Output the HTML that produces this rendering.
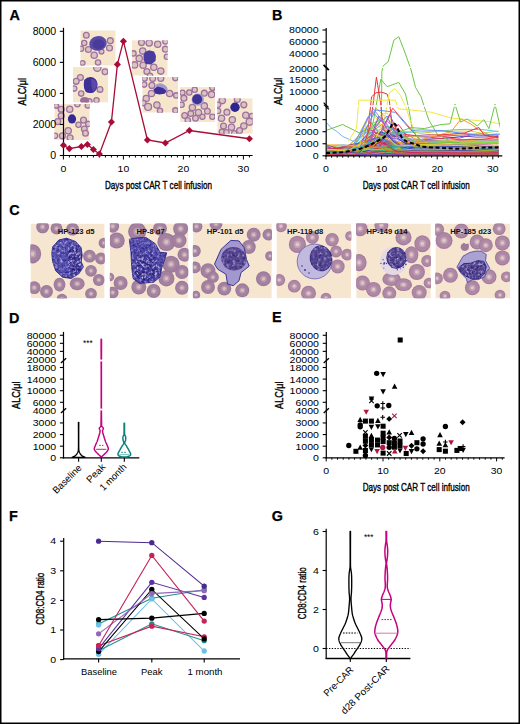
<!DOCTYPE html><html><head><meta charset="utf-8"><style>html,body{margin:0;padding:0;background:#fff;width:520px;height:724px;overflow:hidden}svg{display:block}</style></head><body><svg width="520" height="724" viewBox="0 0 520 724" font-family="'Liberation Sans', sans-serif">
<rect width="520" height="724" fill="#fff"/>
<text x="9.6" y="20.2" font-size="14.4" font-weight="bold" fill="#000" stroke="#000" stroke-width="0.25">A</text>
<clipPath id="ta1"><rect x="54.3" y="103.9" width="35.400000000000006" height="36.099999999999994"/></clipPath>
<g clip-path="url(#ta1)">
<rect x="54.3" y="103.9" width="35.400000000000006" height="36.099999999999994" fill="#f5e6cc"/>
<circle cx="56.2" cy="105.8" r="2.45" fill="#dcc3c2" stroke="#9e729e" stroke-width="1.3"/>
<circle cx="61.2" cy="109.3" r="2.95" fill="#dcc3c2" stroke="#9e729e" stroke-width="1.3"/>
<circle cx="69.7" cy="109.3" r="3.15" fill="#dcc3c2" stroke="#9e729e" stroke-width="1.3"/>
<circle cx="77.4" cy="104.3" r="2.65" fill="#dcc3c2" stroke="#9e729e" stroke-width="1.3"/>
<circle cx="87.8" cy="105.5" r="2.65" fill="#dcc3c2" stroke="#9e729e" stroke-width="1.3"/>
<circle cx="61.2" cy="115.8" r="2.95" fill="#dcc3c2" stroke="#9e729e" stroke-width="1.3"/>
<circle cx="57.8" cy="121.6" r="2.95" fill="#dcc3c2" stroke="#9e729e" stroke-width="1.3"/>
<circle cx="83.5" cy="120.1" r="2.95" fill="#dcc3c2" stroke="#9e729e" stroke-width="1.3"/>
<circle cx="78.5" cy="124.7" r="2.65" fill="#dcc3c2" stroke="#9e729e" stroke-width="1.3"/>
<circle cx="88.2" cy="123.9" r="2.65" fill="#dcc3c2" stroke="#9e729e" stroke-width="1.3"/>
<circle cx="84.3" cy="128.9" r="2.85" fill="#dcc3c2" stroke="#9e729e" stroke-width="1.3"/>
<circle cx="85.5" cy="133.2" r="2.85" fill="#dcc3c2" stroke="#9e729e" stroke-width="1.3"/>
<circle cx="68.2" cy="130.8" r="3.15" fill="#dcc3c2" stroke="#9e729e" stroke-width="1.3"/>
<circle cx="62.4" cy="135.8" r="2.95" fill="#dcc3c2" stroke="#9e729e" stroke-width="1.3"/>
<circle cx="55.1" cy="135.8" r="2.65" fill="#dcc3c2" stroke="#9e729e" stroke-width="1.3"/>
<circle cx="70.1" cy="137.8" r="2.95" fill="#dcc3c2" stroke="#9e729e" stroke-width="1.3"/>
<ellipse cx="72" cy="118.9" rx="4.1" ry="4.6" fill="#342a92"/>
</g>
<clipPath id="ta2"><rect x="72.9" y="67.1" width="35.19999999999999" height="35.400000000000006"/></clipPath>
<g clip-path="url(#ta2)">
<rect x="72.9" y="67.1" width="35.19999999999999" height="35.400000000000006" fill="#f5e6cc"/>
<circle cx="80.4" cy="77.5" r="2.95" fill="#dcc3c2" stroke="#9e729e" stroke-width="1.3"/>
<circle cx="76.2" cy="81.3" r="2.95" fill="#dcc3c2" stroke="#9e729e" stroke-width="1.3"/>
<circle cx="74.2" cy="88.6" r="2.65" fill="#dcc3c2" stroke="#9e729e" stroke-width="1.3"/>
<circle cx="81.2" cy="93.6" r="2.65" fill="#dcc3c2" stroke="#9e729e" stroke-width="1.3"/>
<circle cx="100" cy="89.4" r="2.85" fill="#dcc3c2" stroke="#9e729e" stroke-width="1.3"/>
<circle cx="105" cy="71.7" r="2.85" fill="#dcc3c2" stroke="#9e729e" stroke-width="1.3"/>
<circle cx="97.3" cy="67.8" r="3.65" fill="#dcc3c2" stroke="#9e729e" stroke-width="1.3"/>
<circle cx="96.5" cy="100.2" r="2.65" fill="#dcc3c2" stroke="#9e729e" stroke-width="1.3"/>
<circle cx="89.2" cy="101.5" r="2.85" fill="#dcc3c2" stroke="#9e729e" stroke-width="1.3"/>
<ellipse cx="84.6" cy="100.6" rx="4.5" ry="3.5" fill="#9a6e98"/>
<path d="M84.2 80 Q87 76.8 91 77.1 Q96.8 78 97.6 84 Q97.5 90 93.5 92.5 Q88.5 94 85.5 91.5 Q83 88 84.2 80Z" fill="#3e3096"/>
<path d="M91 79 Q96 79 97 84 Q97 89 93 91.5 Q91 86 91 79Z" fill="#5a4aa8"/>
</g>
<clipPath id="ta3"><rect x="80.3" y="30.3" width="35.400000000000006" height="35.400000000000006"/></clipPath>
<g clip-path="url(#ta3)">
<rect x="80.3" y="30.3" width="35.400000000000006" height="35.400000000000006" fill="#f5e6cc"/>
<circle cx="86.3" cy="35.3" r="2.85" fill="#dcc3c2" stroke="#9e729e" stroke-width="1.3"/>
<circle cx="84.2" cy="43" r="2.65" fill="#dcc3c2" stroke="#9e729e" stroke-width="1.3"/>
<circle cx="81.1" cy="48.8" r="2.65" fill="#dcc3c2" stroke="#9e729e" stroke-width="1.3"/>
<circle cx="88.4" cy="49.5" r="2.95" fill="#dcc3c2" stroke="#9e729e" stroke-width="1.3"/>
<circle cx="94.2" cy="55.3" r="3.15" fill="#dcc3c2" stroke="#9e729e" stroke-width="1.3"/>
<circle cx="101.5" cy="51.5" r="2.45" fill="#dcc3c2" stroke="#9e729e" stroke-width="1.3"/>
<circle cx="109.5" cy="48" r="2.95" fill="#dcc3c2" stroke="#9e729e" stroke-width="1.3"/>
<circle cx="110.3" cy="40.7" r="2.95" fill="#dcc3c2" stroke="#9e729e" stroke-width="1.3"/>
<circle cx="82.6" cy="63" r="2.45" fill="#dcc3c2" stroke="#9e729e" stroke-width="1.3"/>
<circle cx="98" cy="62.6" r="2.65" fill="#dcc3c2" stroke="#9e729e" stroke-width="1.3"/>
<ellipse cx="98" cy="43.4" rx="8.8" ry="7.3" fill="#5a4aa8" transform="rotate(-10 98 43.4)"/>
<ellipse cx="98.5" cy="44.2" rx="6" ry="5" fill="#4a3a9a"/>
</g>
<clipPath id="ta4"><rect x="131.9" y="40.2" width="35.79999999999998" height="35.5"/></clipPath>
<g clip-path="url(#ta4)">
<rect x="131.9" y="40.2" width="35.79999999999998" height="35.5" fill="#f5e6cc"/>
<circle cx="141.5" cy="42.6" r="2.95" fill="#dcc3c2" stroke="#9e729e" stroke-width="1.3"/>
<circle cx="149.2" cy="43" r="3.15" fill="#dcc3c2" stroke="#9e729e" stroke-width="1.3"/>
<circle cx="157.7" cy="44.2" r="3.15" fill="#dcc3c2" stroke="#9e729e" stroke-width="1.3"/>
<circle cx="165.4" cy="41.5" r="2.65" fill="#dcc3c2" stroke="#9e729e" stroke-width="1.3"/>
<circle cx="142.7" cy="51.1" r="3.15" fill="#dcc3c2" stroke="#9e729e" stroke-width="1.3"/>
<circle cx="133.5" cy="53.4" r="2.65" fill="#dcc3c2" stroke="#9e729e" stroke-width="1.3"/>
<circle cx="165.4" cy="49.2" r="2.95" fill="#dcc3c2" stroke="#9e729e" stroke-width="1.3"/>
<circle cx="139.2" cy="58.4" r="3.15" fill="#dcc3c2" stroke="#9e729e" stroke-width="1.3"/>
<circle cx="166.9" cy="56.8" r="2.65" fill="#dcc3c2" stroke="#9e729e" stroke-width="1.3"/>
<circle cx="134.6" cy="64.9" r="3.15" fill="#dcc3c2" stroke="#9e729e" stroke-width="1.3"/>
<circle cx="143.1" cy="65.3" r="3.15" fill="#dcc3c2" stroke="#9e729e" stroke-width="1.3"/>
<circle cx="153.8" cy="67.2" r="3.15" fill="#dcc3c2" stroke="#9e729e" stroke-width="1.3"/>
<circle cx="146.9" cy="71.5" r="2.95" fill="#dcc3c2" stroke="#9e729e" stroke-width="1.3"/>
<circle cx="160.8" cy="71.1" r="3.15" fill="#dcc3c2" stroke="#9e729e" stroke-width="1.3"/>
<circle cx="150" cy="75.7" r="2.65" fill="#dcc3c2" stroke="#9e729e" stroke-width="1.3"/>
<path d="M145 52 L149 50.3 L154 51.5 L156 56 L155.5 61 L151 64.5 L146 64 L143.5 60 L143.5 55Z" fill="#4a3c9e"/>
</g>
<clipPath id="ta5"><rect x="142.3" y="76.9" width="35.79999999999998" height="35.8"/></clipPath>
<g clip-path="url(#ta5)">
<rect x="142.3" y="76.9" width="35.79999999999998" height="35.8" fill="#f5e6cc"/>
<circle cx="144.6" cy="78.5" r="2.65" fill="#dcc3c2" stroke="#9e729e" stroke-width="1.3"/>
<circle cx="152.7" cy="78.5" r="2.95" fill="#dcc3c2" stroke="#9e729e" stroke-width="1.3"/>
<circle cx="160.8" cy="78.5" r="2.95" fill="#dcc3c2" stroke="#9e729e" stroke-width="1.3"/>
<circle cx="175.4" cy="78.1" r="2.65" fill="#dcc3c2" stroke="#9e729e" stroke-width="1.3"/>
<circle cx="144.2" cy="84.6" r="2.65" fill="#dcc3c2" stroke="#9e729e" stroke-width="1.3"/>
<circle cx="151.9" cy="85.4" r="2.95" fill="#dcc3c2" stroke="#9e729e" stroke-width="1.3"/>
<circle cx="151.5" cy="93.5" r="3.15" fill="#dcc3c2" stroke="#9e729e" stroke-width="1.3"/>
<circle cx="169.6" cy="93.5" r="3.15" fill="#dcc3c2" stroke="#9e729e" stroke-width="1.3"/>
<circle cx="176.2" cy="95.4" r="2.65" fill="#dcc3c2" stroke="#9e729e" stroke-width="1.3"/>
<circle cx="146.2" cy="98.5" r="3.15" fill="#dcc3c2" stroke="#9e729e" stroke-width="1.3"/>
<circle cx="143.5" cy="103.1" r="2.65" fill="#dcc3c2" stroke="#9e729e" stroke-width="1.3"/>
<circle cx="148.1" cy="106.9" r="3.45" fill="#dcc3c2" stroke="#9e729e" stroke-width="1.3"/>
<circle cx="156.9" cy="105" r="3.15" fill="#dcc3c2" stroke="#9e729e" stroke-width="1.3"/>
<circle cx="160" cy="110.8" r="2.65" fill="#dcc3c2" stroke="#9e729e" stroke-width="1.3"/>
<circle cx="175.4" cy="110.4" r="2.65" fill="#dcc3c2" stroke="#9e729e" stroke-width="1.3"/>
<ellipse cx="161.5" cy="88.2" rx="6.5" ry="4.4" fill="#a498cc" transform="rotate(25 161.5 88.2)"/>
<path d="M153.5 89.2 L157.7 86.5 L163 88 L166.5 91 L164.6 93.8 L159.3 94.6 L155 93.5Z" fill="#3c3096"/>
</g>
<clipPath id="ta6"><rect x="179.9" y="87.1" width="35.19999999999999" height="35.0"/></clipPath>
<g clip-path="url(#ta6)">
<rect x="179.9" y="87.1" width="35.19999999999999" height="35.0" fill="#f5e6cc"/>
<circle cx="194.7" cy="89.8" r="2.65" fill="#dcc3c2" stroke="#9e729e" stroke-width="1.3"/>
<circle cx="189.3" cy="92.5" r="2.65" fill="#dcc3c2" stroke="#9e729e" stroke-width="1.3"/>
<circle cx="182.4" cy="92.8" r="2.65" fill="#dcc3c2" stroke="#9e729e" stroke-width="1.3"/>
<circle cx="183.9" cy="98.2" r="2.95" fill="#dcc3c2" stroke="#9e729e" stroke-width="1.3"/>
<circle cx="204.3" cy="93.2" r="2.95" fill="#dcc3c2" stroke="#9e729e" stroke-width="1.3"/>
<circle cx="211.6" cy="94.4" r="3.15" fill="#dcc3c2" stroke="#9e729e" stroke-width="1.3"/>
<circle cx="212.4" cy="87.8" r="2.65" fill="#dcc3c2" stroke="#9e729e" stroke-width="1.3"/>
<circle cx="181.6" cy="104.8" r="2.65" fill="#dcc3c2" stroke="#9e729e" stroke-width="1.3"/>
<circle cx="192.4" cy="107.5" r="3.15" fill="#dcc3c2" stroke="#9e729e" stroke-width="1.3"/>
<circle cx="204.3" cy="105.9" r="3.15" fill="#dcc3c2" stroke="#9e729e" stroke-width="1.3"/>
<circle cx="198.5" cy="112.5" r="3.15" fill="#dcc3c2" stroke="#9e729e" stroke-width="1.3"/>
<circle cx="207.4" cy="111.3" r="2.85" fill="#dcc3c2" stroke="#9e729e" stroke-width="1.3"/>
<circle cx="190.8" cy="113.6" r="2.85" fill="#dcc3c2" stroke="#9e729e" stroke-width="1.3"/>
<circle cx="184.7" cy="115.5" r="2.85" fill="#dcc3c2" stroke="#9e729e" stroke-width="1.3"/>
<circle cx="195.5" cy="118.2" r="2.85" fill="#dcc3c2" stroke="#9e729e" stroke-width="1.3"/>
<circle cx="202.4" cy="116.7" r="2.65" fill="#dcc3c2" stroke="#9e729e" stroke-width="1.3"/>
<circle cx="212.4" cy="116.7" r="2.65" fill="#dcc3c2" stroke="#9e729e" stroke-width="1.3"/>
<circle cx="187.8" cy="120.2" r="2.65" fill="#dcc3c2" stroke="#9e729e" stroke-width="1.3"/>
<circle cx="197.8" cy="99.6" r="6.2" fill="#a89ccc"/>
<circle cx="197.2" cy="99.2" r="5.0" fill="#3e3296"/>
</g>
<clipPath id="ta7"><rect x="217.2" y="98.3" width="35.5" height="35.39999999999999"/></clipPath>
<g clip-path="url(#ta7)">
<rect x="217.2" y="98.3" width="35.5" height="35.39999999999999" fill="#f5e6cc"/>
<circle cx="222.3" cy="100.6" r="3.15" fill="#dcc3c2" stroke="#9e729e" stroke-width="1.3"/>
<circle cx="237.3" cy="99.5" r="2.95" fill="#dcc3c2" stroke="#9e729e" stroke-width="1.3"/>
<circle cx="243.8" cy="104.8" r="2.95" fill="#dcc3c2" stroke="#9e729e" stroke-width="1.3"/>
<circle cx="218.1" cy="104.8" r="2.65" fill="#dcc3c2" stroke="#9e729e" stroke-width="1.3"/>
<circle cx="218.1" cy="111" r="2.65" fill="#dcc3c2" stroke="#9e729e" stroke-width="1.3"/>
<circle cx="226.9" cy="112.2" r="2.95" fill="#dcc3c2" stroke="#9e729e" stroke-width="1.3"/>
<circle cx="245.8" cy="115.2" r="3.15" fill="#dcc3c2" stroke="#9e729e" stroke-width="1.3"/>
<circle cx="251.9" cy="116" r="2.65" fill="#dcc3c2" stroke="#9e729e" stroke-width="1.3"/>
<circle cx="221.5" cy="118.3" r="3.15" fill="#dcc3c2" stroke="#9e729e" stroke-width="1.3"/>
<circle cx="232.3" cy="119.8" r="3.15" fill="#dcc3c2" stroke="#9e729e" stroke-width="1.3"/>
<circle cx="249.6" cy="121.8" r="3.45" fill="#dcc3c2" stroke="#9e729e" stroke-width="1.3"/>
<circle cx="223.5" cy="126" r="2.95" fill="#dcc3c2" stroke="#9e729e" stroke-width="1.3"/>
<circle cx="231.5" cy="127.2" r="3.15" fill="#dcc3c2" stroke="#9e729e" stroke-width="1.3"/>
<circle cx="243.8" cy="126" r="3.15" fill="#dcc3c2" stroke="#9e729e" stroke-width="1.3"/>
<circle cx="239.6" cy="130.6" r="2.95" fill="#dcc3c2" stroke="#9e729e" stroke-width="1.3"/>
<circle cx="221.9" cy="131.8" r="2.65" fill="#dcc3c2" stroke="#9e729e" stroke-width="1.3"/>
<circle cx="226.5" cy="132.2" r="2.65" fill="#dcc3c2" stroke="#9e729e" stroke-width="1.3"/>
<circle cx="234.2" cy="133.3" r="2.65" fill="#dcc3c2" stroke="#9e729e" stroke-width="1.3"/>
<circle cx="235" cy="107.2" r="4.7" fill="#2e2690"/>
</g>
<line x1="63.5" y1="27.8" x2="63.5" y2="156.1" stroke="#000" stroke-width="1.2"/>
<line x1="62.9" y1="155.5" x2="252.6" y2="155.5" stroke="#000" stroke-width="1.2"/>
<line x1="59.8" y1="155.5" x2="63.5" y2="155.5" stroke="#000" stroke-width="1.1"/>
<text x="56.2" y="159.08" font-size="10.0" text-anchor="end" textLength="5.9" lengthAdjust="spacingAndGlyphs" fill="#000">0</text>
<line x1="59.8" y1="124.45" x2="63.5" y2="124.45" stroke="#000" stroke-width="1.1"/>
<text x="56.2" y="128.03" font-size="10.0" text-anchor="end" textLength="23.5" lengthAdjust="spacingAndGlyphs" fill="#000">2000</text>
<line x1="59.8" y1="93.4" x2="63.5" y2="93.4" stroke="#000" stroke-width="1.1"/>
<text x="56.2" y="96.98" font-size="10.0" text-anchor="end" textLength="23.5" lengthAdjust="spacingAndGlyphs" fill="#000">4000</text>
<line x1="59.8" y1="62.349999999999994" x2="63.5" y2="62.349999999999994" stroke="#000" stroke-width="1.1"/>
<text x="56.2" y="65.92999999999999" font-size="10.0" text-anchor="end" textLength="23.5" lengthAdjust="spacingAndGlyphs" fill="#000">6000</text>
<line x1="59.8" y1="31.299999999999997" x2="63.5" y2="31.299999999999997" stroke="#000" stroke-width="1.1"/>
<text x="56.2" y="34.879999999999995" font-size="10.0" text-anchor="end" textLength="23.5" lengthAdjust="spacingAndGlyphs" fill="#000">8000</text>
<line x1="63.4" y1="155.5" x2="63.4" y2="159.5" stroke="#000" stroke-width="1.0"/>
<line x1="69.4" y1="155.5" x2="69.4" y2="157.5" stroke="#000" stroke-width="1.0"/>
<line x1="75.4" y1="155.5" x2="75.4" y2="157.5" stroke="#000" stroke-width="1.0"/>
<line x1="81.4" y1="155.5" x2="81.4" y2="157.5" stroke="#000" stroke-width="1.0"/>
<line x1="87.4" y1="155.5" x2="87.4" y2="157.5" stroke="#000" stroke-width="1.0"/>
<line x1="93.4" y1="155.5" x2="93.4" y2="157.5" stroke="#000" stroke-width="1.0"/>
<line x1="99.4" y1="155.5" x2="99.4" y2="157.5" stroke="#000" stroke-width="1.0"/>
<line x1="105.4" y1="155.5" x2="105.4" y2="157.5" stroke="#000" stroke-width="1.0"/>
<line x1="111.4" y1="155.5" x2="111.4" y2="157.5" stroke="#000" stroke-width="1.0"/>
<line x1="117.4" y1="155.5" x2="117.4" y2="157.5" stroke="#000" stroke-width="1.0"/>
<line x1="123.4" y1="155.5" x2="123.4" y2="159.5" stroke="#000" stroke-width="1.0"/>
<line x1="129.4" y1="155.5" x2="129.4" y2="157.5" stroke="#000" stroke-width="1.0"/>
<line x1="135.4" y1="155.5" x2="135.4" y2="157.5" stroke="#000" stroke-width="1.0"/>
<line x1="141.4" y1="155.5" x2="141.4" y2="157.5" stroke="#000" stroke-width="1.0"/>
<line x1="147.4" y1="155.5" x2="147.4" y2="157.5" stroke="#000" stroke-width="1.0"/>
<line x1="153.4" y1="155.5" x2="153.4" y2="157.5" stroke="#000" stroke-width="1.0"/>
<line x1="159.4" y1="155.5" x2="159.4" y2="157.5" stroke="#000" stroke-width="1.0"/>
<line x1="165.4" y1="155.5" x2="165.4" y2="157.5" stroke="#000" stroke-width="1.0"/>
<line x1="171.4" y1="155.5" x2="171.4" y2="157.5" stroke="#000" stroke-width="1.0"/>
<line x1="177.4" y1="155.5" x2="177.4" y2="157.5" stroke="#000" stroke-width="1.0"/>
<line x1="183.4" y1="155.5" x2="183.4" y2="159.5" stroke="#000" stroke-width="1.0"/>
<line x1="189.4" y1="155.5" x2="189.4" y2="157.5" stroke="#000" stroke-width="1.0"/>
<line x1="195.4" y1="155.5" x2="195.4" y2="157.5" stroke="#000" stroke-width="1.0"/>
<line x1="201.4" y1="155.5" x2="201.4" y2="157.5" stroke="#000" stroke-width="1.0"/>
<line x1="207.4" y1="155.5" x2="207.4" y2="157.5" stroke="#000" stroke-width="1.0"/>
<line x1="213.4" y1="155.5" x2="213.4" y2="157.5" stroke="#000" stroke-width="1.0"/>
<line x1="219.4" y1="155.5" x2="219.4" y2="157.5" stroke="#000" stroke-width="1.0"/>
<line x1="225.4" y1="155.5" x2="225.4" y2="157.5" stroke="#000" stroke-width="1.0"/>
<line x1="231.4" y1="155.5" x2="231.4" y2="157.5" stroke="#000" stroke-width="1.0"/>
<line x1="237.4" y1="155.5" x2="237.4" y2="157.5" stroke="#000" stroke-width="1.0"/>
<line x1="243.4" y1="155.5" x2="243.4" y2="159.5" stroke="#000" stroke-width="1.0"/>
<line x1="249.4" y1="155.5" x2="249.4" y2="157.5" stroke="#000" stroke-width="1.0"/>
<text x="63.4" y="171.8" font-size="9.5" text-anchor="middle" textLength="5.9" lengthAdjust="spacingAndGlyphs" fill="#000">0</text>
<text x="123.4" y="171.8" font-size="9.5" text-anchor="middle" textLength="11.6" lengthAdjust="spacingAndGlyphs" fill="#000">10</text>
<text x="183.4" y="171.8" font-size="9.5" text-anchor="middle" textLength="11.6" lengthAdjust="spacingAndGlyphs" fill="#000">20</text>
<text x="243.4" y="171.8" font-size="9.5" text-anchor="middle" textLength="11.6" lengthAdjust="spacingAndGlyphs" fill="#000">30</text>
<text x="158.5" y="188.6" font-size="11.8" text-anchor="middle" textLength="107" lengthAdjust="spacingAndGlyphs" fill="#000" stroke="#000" stroke-width="0.38">Days post CAR T cell infusion</text>
<text x="25.7" y="91.65" font-size="11.8" text-anchor="middle" textLength="27.5" lengthAdjust="spacingAndGlyphs" transform="rotate(-90 25.7 91.65)" fill="#000" stroke="#000" stroke-width="0.38">ALC/&#956;l</text>
<polyline points="63.40,145.20 69.40,148.60 81.40,146.50 87.40,144.50 93.40,149.50 99.40,154.00 111.40,122.00 117.40,64.40 123.40,41.20 147.40,140.00 165.40,143.00 189.40,130.50 249.40,138.75" fill="none" stroke="#a80c37" stroke-width="1.3"/>
<rect x="60.90" y="142.70" width="5.0" height="5.0" fill="#a80c37" transform="rotate(45 63.40 145.20)"/>
<rect x="66.90" y="146.10" width="5.0" height="5.0" fill="#a80c37" transform="rotate(45 69.40 148.60)"/>
<rect x="78.90" y="144.00" width="5.0" height="5.0" fill="#a80c37" transform="rotate(45 81.40 146.50)"/>
<rect x="84.90" y="142.00" width="5.0" height="5.0" fill="#a80c37" transform="rotate(45 87.40 144.50)"/>
<rect x="90.90" y="147.00" width="5.0" height="5.0" fill="#a80c37" transform="rotate(45 93.40 149.50)"/>
<rect x="96.90" y="151.50" width="5.0" height="5.0" fill="#a80c37" transform="rotate(45 99.40 154.00)"/>
<rect x="108.90" y="119.50" width="5.0" height="5.0" fill="#a80c37" transform="rotate(45 111.40 122.00)"/>
<rect x="114.90" y="61.90" width="5.0" height="5.0" fill="#a80c37" transform="rotate(45 117.40 64.40)"/>
<rect x="120.90" y="38.70" width="5.0" height="5.0" fill="#a80c37" transform="rotate(45 123.40 41.20)"/>
<rect x="144.90" y="137.50" width="5.0" height="5.0" fill="#a80c37" transform="rotate(45 147.40 140.00)"/>
<rect x="162.90" y="140.50" width="5.0" height="5.0" fill="#a80c37" transform="rotate(45 165.40 143.00)"/>
<rect x="186.90" y="128.00" width="5.0" height="5.0" fill="#a80c37" transform="rotate(45 189.40 130.50)"/>
<rect x="246.90" y="136.25" width="5.0" height="5.0" fill="#a80c37" transform="rotate(45 249.40 138.75)"/>
<text x="271.9" y="19.9" font-size="14.4" font-weight="bold" fill="#000" stroke="#000" stroke-width="0.25">B</text>
<g clip-path="url(#clipB)">
<clipPath id="clipB"><rect x="327" y="20" width="173" height="135.6"/></clipPath>
<polyline points="326.00,145.29 331.56,149.00 342.68,148.47 353.80,146.34 364.92,139.51 370.48,141.56 381.60,142.55 398.28,139.35 426.08,143.24 437.20,140.99 453.88,142.56 465.00,142.97 492.80,143.04 498.36,142.51" fill="none" stroke="#f06a90" stroke-width="0.85"/>
<polyline points="326.00,155.02 331.56,155.05 353.80,154.72 359.36,155.11 364.92,153.82 381.60,149.49 392.72,151.17 398.28,152.80 403.84,153.62 431.64,154.22 459.44,154.07 481.68,154.19 498.36,154.13" fill="none" stroke="#ffcc33" stroke-width="0.85"/>
<polyline points="326.00,153.76 342.68,153.37 353.80,153.57 370.48,151.93 392.72,151.75 403.84,151.27 426.08,151.96 453.88,151.59 465.00,151.84 476.12,151.88 498.36,151.93" fill="none" stroke="#c8c820" stroke-width="0.85"/>
<polyline points="326.00,154.79 331.56,155.17 337.12,155.16 348.24,155.13 376.04,136.97 387.16,149.00 398.28,153.55 403.84,154.03 426.08,154.07 453.88,153.91 476.12,153.93 498.36,153.86" fill="none" stroke="#3a30c0" stroke-width="0.85"/>
<polyline points="326.00,152.51 348.24,152.07 353.80,152.78 359.36,152.91 370.48,148.85 398.28,149.02 403.84,148.17 431.64,148.49 442.76,147.12 459.44,147.54 470.56,148.30 487.24,148.13 498.36,147.98" fill="none" stroke="#8a3ad0" stroke-width="0.85"/>
<polyline points="326.00,154.08 348.24,153.56 370.48,121.84 376.04,129.14 387.16,146.17 392.72,148.91 414.96,150.14 442.76,150.61 459.44,150.50 470.56,150.72 487.24,150.06 498.36,150.32" fill="none" stroke="#2aa050" stroke-width="0.85"/>
<polyline points="326.00,154.42 337.12,154.00 348.24,153.95 359.36,153.98 364.92,149.35 381.60,150.15 392.72,152.56 403.84,152.90 426.08,152.70 453.88,152.42 476.12,152.24 492.80,152.28 498.36,152.52" fill="none" stroke="#6a2ac0" stroke-width="0.85"/>
<polyline points="326.00,153.87 337.12,154.73 348.24,154.23 359.36,154.34 370.48,151.99 376.04,152.05 392.72,152.07 398.28,152.25 426.08,151.89 453.88,152.46 465.00,152.17 481.68,152.55 498.36,151.99" fill="none" stroke="#80e040" stroke-width="0.85"/>
<polyline points="326.00,155.00 331.56,154.93 337.12,155.06 381.60,152.68 387.16,151.88 392.72,152.30 414.96,154.48 442.76,154.38 459.44,154.28 470.56,154.30 492.80,154.35 498.36,154.30" fill="none" stroke="#80e040" stroke-width="0.85"/>
<polyline points="326.00,154.93 342.68,154.84 353.80,154.90 359.36,154.89 364.92,153.81 370.48,153.98 381.60,153.92 403.84,153.97 426.08,153.79 437.20,153.88 448.32,153.81 476.12,153.79 487.24,154.04 498.36,153.93" fill="none" stroke="#8a3ad0" stroke-width="0.85"/>
<polyline points="326.00,147.60 331.56,150.48 342.68,147.66 359.36,149.79 370.48,143.75 381.60,141.31 387.16,142.08 398.28,145.33 409.40,143.85 426.08,143.65 448.32,144.08 465.00,144.42 487.24,144.13 498.36,143.15" fill="none" stroke="#e03ac0" stroke-width="0.85"/>
<polyline points="326.00,154.03 342.68,154.18 353.80,153.94 370.48,153.15 381.60,153.00 403.84,153.03 426.08,153.04 437.20,153.14 453.88,153.16 476.12,152.88 492.80,153.22 498.36,152.82" fill="none" stroke="#ee2a2a" stroke-width="0.85"/>
<polyline points="326.00,148.48 331.56,148.89 337.12,145.04 342.68,146.59 364.92,141.68 370.48,142.20 392.72,136.28 398.28,138.21 403.84,142.48 426.08,141.44 442.76,140.93 453.88,143.52 470.56,143.57 481.68,142.25 498.36,140.97" fill="none" stroke="#a0dd30" stroke-width="0.85"/>
<polyline points="326.00,152.98 348.24,153.17 359.36,154.25 381.60,150.84 387.16,150.36 398.28,151.21 403.84,151.92 426.08,150.92 442.76,151.19 459.44,151.07 487.24,150.63 498.36,150.98" fill="none" stroke="#6a2ac0" stroke-width="0.85"/>
<polyline points="326.00,155.19 342.68,155.18 364.92,148.21 381.60,150.55 387.16,153.33 392.72,154.34 414.96,154.69 431.64,154.62 442.76,154.71 465.00,154.71 492.80,154.64 498.36,154.66" fill="none" stroke="#3a30c0" stroke-width="0.85"/>
<polyline points="326.00,149.30 348.24,148.75 353.80,147.51 359.36,148.90 376.04,133.34 387.16,133.97 392.72,132.89 403.84,134.14 414.96,135.58 442.76,136.33 459.44,138.23 470.56,135.13 487.24,135.32 498.36,136.28" fill="none" stroke="#e01a50" stroke-width="0.85"/>
<polyline points="326.00,155.05 331.56,155.16 337.12,155.02 342.68,155.01 381.60,124.52 398.28,149.07 403.84,153.14 414.96,154.56 442.76,154.44 465.00,154.65 476.12,154.63 492.80,154.56 498.36,154.50" fill="none" stroke="#20b0a0" stroke-width="0.85"/>
<polyline points="326.00,153.14 337.12,153.13 342.68,154.22 353.80,154.20 364.92,149.98 370.48,151.01 387.16,150.80 403.84,150.28 414.96,150.36 442.76,150.74 465.00,150.91 492.80,150.65 498.36,150.51" fill="none" stroke="#3a30c0" stroke-width="0.85"/>
<polyline points="326.00,154.47 342.68,153.63 348.24,153.85 359.36,153.66 376.04,128.32 392.72,151.20 398.28,152.04 409.40,151.66 431.64,151.97 442.76,152.14 465.00,152.09 487.24,152.20 498.36,152.37" fill="none" stroke="#c8c820" stroke-width="0.85"/>
<polyline points="326.00,155.13 342.68,155.31 348.24,155.03 353.80,155.17 364.92,154.42 381.60,152.69 392.72,152.90 398.28,153.70 426.08,154.74 442.76,154.75 453.88,154.64 465.00,154.66 492.80,154.72 498.36,154.75" fill="none" stroke="#f0e030" stroke-width="0.85"/>
<polyline points="326.00,153.28 331.56,153.70 337.12,153.45 353.80,153.42 381.60,147.44 392.72,148.32 403.84,149.20 431.64,149.93 448.32,149.93 465.00,149.79 481.68,149.97 492.80,150.02 498.36,150.35" fill="none" stroke="#c8c820" stroke-width="0.85"/>
<polyline points="326.00,153.75 337.12,153.06 348.24,152.12 364.92,148.69 376.04,145.67 387.16,147.85 398.28,151.37 403.84,151.82 414.96,151.45 442.76,151.11 470.56,150.96 498.36,150.72" fill="none" stroke="#a0dd30" stroke-width="0.85"/>
<polyline points="326.00,150.21 331.56,148.14 337.12,151.23 364.92,142.22 376.04,139.76 381.60,143.60 387.16,143.40 414.96,141.51 426.08,143.11 437.20,142.35 448.32,142.29 470.56,143.68 487.24,142.65 498.36,142.02" fill="none" stroke="#80e040" stroke-width="0.85"/>
<polyline points="326.00,155.39 337.12,155.29 348.24,155.10 359.36,155.37 364.92,152.04 381.60,136.92 392.72,146.95 403.84,154.35 431.64,154.89 453.88,154.93 481.68,154.81 498.36,154.96" fill="none" stroke="#55cc33" stroke-width="0.85"/>
<polyline points="326.00,153.54 331.56,153.18 353.80,153.73 359.36,154.01 364.92,148.24 376.04,147.68 381.60,149.42 398.28,150.86 414.96,151.16 442.76,151.21 453.88,151.35 465.00,150.97 481.68,150.87 498.36,150.73" fill="none" stroke="#5aa0ff" stroke-width="0.85"/>
<polyline points="326.00,155.07 331.56,154.98 348.24,154.70 353.80,155.16 381.60,153.10 387.16,153.90 392.72,154.19 398.28,154.64 409.40,154.52 420.52,154.51 448.32,154.27 465.00,154.46 487.24,154.32 498.36,154.28" fill="none" stroke="#ff5a20" stroke-width="0.85"/>
<polyline points="326.00,153.95 342.68,153.83 359.36,153.93 364.92,153.43 370.48,153.03 387.16,153.57 403.84,152.54 414.96,153.13 442.76,152.92 470.56,153.22 498.36,153.17" fill="none" stroke="#f06a90" stroke-width="0.85"/>
<polyline points="326.00,154.07 337.12,153.80 348.24,153.08 364.92,150.78 370.48,152.13 392.72,152.20 398.28,151.64 403.84,150.91 420.52,151.80 448.32,151.54 459.44,151.34 470.56,151.36 492.80,151.34 498.36,151.75" fill="none" stroke="#f06a90" stroke-width="0.85"/>
<polyline points="326.00,152.67 337.12,152.09 376.04,143.36 381.60,143.49 387.16,145.86 392.72,148.52 403.84,150.04 431.64,151.37 453.88,151.13 470.56,151.30 487.24,151.23 498.36,150.46" fill="none" stroke="#a0dd30" stroke-width="0.85"/>
<polyline points="326.00,154.66 331.56,154.66 342.68,154.89 359.36,154.91 364.92,151.53 370.48,151.98 381.60,153.65 392.72,153.90 414.96,153.94 431.64,153.96 442.76,153.82 459.44,153.87 481.68,154.06 492.80,153.92 498.36,153.87" fill="none" stroke="#e01a50" stroke-width="0.85"/>
<polyline points="326.00,151.78 331.56,152.48 342.68,152.59 348.24,152.64 364.92,144.03 392.72,145.00 398.28,145.11 414.96,147.40 442.76,147.54 470.56,147.38 487.24,146.17 498.36,146.92" fill="none" stroke="#c02a80" stroke-width="0.85"/>
<polyline points="326.00,152.80 337.12,152.21 342.68,152.15 353.80,153.26 370.48,148.01 376.04,147.44 398.28,149.25 403.84,149.91 420.52,149.85 442.76,150.11 459.44,150.12 470.56,150.58 498.36,150.28" fill="none" stroke="#e01a50" stroke-width="0.85"/>
<polyline points="326.00,154.89 331.56,154.93 337.12,154.84 364.92,153.23 370.48,152.25 381.60,151.87 392.72,153.65 420.52,153.67 448.32,153.87 470.56,153.88 498.36,153.82" fill="none" stroke="#e01a50" stroke-width="0.85"/>
<polyline points="326.00,148.88 337.12,148.38 342.68,151.27 348.24,151.11 364.92,145.02 370.48,144.01 392.72,129.20 403.84,140.08 420.52,144.83 431.64,146.05 453.88,144.98 465.00,145.02 476.12,145.24 498.36,145.17" fill="none" stroke="#ff5a20" stroke-width="0.85"/>
<polyline points="326.00,155.18 342.68,155.09 348.24,155.23 353.80,155.21 376.04,146.35 381.60,147.43 387.16,150.79 403.84,154.53 420.52,154.81 442.76,154.63 465.00,154.61 476.12,154.72 492.80,154.70 498.36,154.67" fill="none" stroke="#33c0d0" stroke-width="0.85"/>
<polyline points="326.00,154.79 342.68,154.34 348.24,154.41 370.48,146.26 376.04,139.52 392.72,143.67 420.52,153.13 437.20,153.40 453.88,153.36 465.00,153.19 487.24,153.30 498.36,153.32" fill="none" stroke="#f0e030" stroke-width="0.85"/>
<polyline points="326.00,155.16 331.56,155.23 342.68,154.86 353.80,154.90 370.48,154.61 381.60,154.80 387.16,154.76 392.72,154.50 398.28,154.70 420.52,154.51 437.20,154.47 453.88,154.69 476.12,154.51 498.36,154.49" fill="none" stroke="#55cc33" stroke-width="0.85"/>
<polyline points="326.00,152.15 331.56,151.88 364.92,142.14 376.04,122.18 381.60,119.77 398.28,146.44 409.40,150.03 420.52,149.32 431.64,148.85 448.32,149.20 465.00,149.51 492.80,149.43 498.36,149.64" fill="none" stroke="#5aa0ff" stroke-width="0.85"/>
<polyline points="326.00,152.16 331.56,150.93 337.12,151.92 342.68,149.78 364.92,140.55 370.48,133.13 387.16,126.51 392.72,135.34 414.96,148.18 442.76,147.86 465.00,147.52 487.24,147.88 498.36,147.11" fill="none" stroke="#7a8aff" stroke-width="0.85"/>
<polyline points="326.00,149.97 331.56,150.75 359.36,151.19 381.60,113.69 387.16,113.05 398.28,133.86 409.40,140.16 426.08,140.05 442.76,142.06 453.88,140.49 465.00,141.17 476.12,139.80 487.24,139.80 498.36,139.58" fill="none" stroke="#ffcc33" stroke-width="0.85"/>
<polyline points="326.00,149.31 331.56,149.64 337.12,149.25 364.92,141.99 370.48,144.96 387.16,126.00 403.84,137.19 414.96,143.62 431.64,144.00 442.76,144.30 459.44,144.73 481.68,143.67 498.36,143.57" fill="none" stroke="#4a7cf0" stroke-width="0.85"/>
<polyline points="326.00,154.32 331.56,153.62 353.80,153.46 370.48,150.45 376.04,148.95 381.60,144.32 387.16,140.85 398.28,143.62 409.40,152.21 426.08,151.71 448.32,151.61 459.44,152.16 470.56,152.21 492.80,151.61 498.36,151.74" fill="none" stroke="#ee2a2a" stroke-width="0.85"/>
<polyline points="326.00,150.71 331.56,149.04 342.68,151.19 348.24,150.44 364.92,143.97 370.48,142.92 392.72,142.93 398.28,143.43 414.96,144.47 437.20,144.52 459.44,144.92 487.24,143.31 498.36,143.73" fill="none" stroke="#c8c820" stroke-width="0.85"/>
<polyline points="326.00,155.00 337.12,155.07 342.68,154.65 348.24,154.79 376.04,146.47 381.60,145.40 387.16,148.51 403.84,153.87 420.52,153.76 442.76,153.84 465.00,153.86 481.68,153.97 498.36,154.06" fill="none" stroke="#f06a90" stroke-width="0.85"/>
<polyline points="326.00,146.95 331.56,147.49 348.24,147.21 364.92,128.09 376.04,121.55 381.60,126.71 387.16,131.98 403.84,139.36 426.08,140.04 453.88,141.14 465.00,141.28 481.68,141.46 498.36,140.50" fill="none" stroke="#80e040" stroke-width="0.85"/>
<polyline points="326.00,151.68 348.24,151.52 359.36,153.18 376.04,138.44 387.16,148.86 398.28,149.25 403.84,148.73 414.96,150.17 442.76,150.00 459.44,149.40 481.68,149.87 492.80,150.17 498.36,149.84" fill="none" stroke="#a0dd30" stroke-width="0.85"/>
<polyline points="326.00,153.19 337.12,153.16 348.24,151.37 359.36,151.98 364.92,148.47 370.48,148.34 376.04,148.14 392.72,137.51 398.28,139.60 420.52,148.41 442.76,148.38 470.56,148.35 498.36,148.40" fill="none" stroke="#ee2a2a" stroke-width="0.85"/>
<polyline points="326.00,154.93 337.12,154.86 348.24,154.94 359.36,154.83 376.04,153.76 381.60,153.93 392.72,153.26 398.28,153.67 403.84,153.70 426.08,153.56 442.76,153.47 470.56,153.50 492.80,153.40 498.36,153.39" fill="none" stroke="#ff5a20" stroke-width="0.85"/>
<polyline points="326.00,154.81 337.12,155.03 342.68,155.13 353.80,154.74 364.92,145.20 370.48,138.92 381.60,140.72 392.72,152.19 414.96,154.40 437.20,154.43 448.32,154.37 465.00,154.40 481.68,154.39 498.36,154.56" fill="none" stroke="#2aa050" stroke-width="0.85"/>
<polyline points="326.00,152.59 331.56,152.91 353.80,153.61 376.04,142.25 381.60,130.48 387.16,120.79 398.28,132.60 403.84,142.73 431.64,149.98 442.76,150.20 470.56,150.43 498.36,150.24" fill="none" stroke="#e03ac0" stroke-width="0.85"/>
<polyline points="326.00,153.80 342.68,154.12 359.36,153.54 364.92,152.85 370.48,152.71 392.72,152.65 420.52,152.51 448.32,152.86 465.00,152.72 476.12,152.73 492.80,152.65 498.36,152.48" fill="none" stroke="#7a8aff" stroke-width="0.85"/>
<polyline points="326.00,154.05 342.68,153.90 353.80,154.22 370.48,147.83 381.60,140.91 392.72,148.21 403.84,152.68 426.08,152.45 448.32,152.65 465.00,152.62 476.12,152.54 487.24,152.46 498.36,152.65" fill="none" stroke="#3a30c0" stroke-width="0.85"/>
<polyline points="326.00,154.78 348.24,155.12 359.36,155.20 364.92,154.64 370.48,154.33 376.04,154.32 398.28,154.13 409.40,154.37 420.52,154.36 442.76,154.28 459.44,154.29 481.68,154.39 498.36,154.31" fill="none" stroke="#5aa0ff" stroke-width="0.85"/>
<polyline points="326.00,154.13 337.12,154.24 348.24,153.82 359.36,154.06 370.48,136.26 381.60,148.54 398.28,151.16 403.84,150.87 420.52,151.70 431.64,151.38 459.44,151.42 470.56,151.88 481.68,151.36 492.80,151.76 498.36,151.54" fill="none" stroke="#c02a80" stroke-width="0.85"/>
<polyline points="326.00,153.93 331.56,153.14 359.36,153.41 364.92,150.78 370.48,151.30 398.28,141.64 420.52,151.12 442.76,150.27 459.44,151.07 487.24,150.43 498.36,150.76" fill="none" stroke="#c8c820" stroke-width="0.85"/>
<polyline points="326.00,146.56 331.56,145.02 353.80,145.48 359.36,148.22 364.92,143.17 376.04,139.02 387.16,129.80 392.72,127.80 398.28,129.68 414.96,138.97 442.76,141.61 470.56,139.14 498.36,139.21" fill="none" stroke="#ff5a20" stroke-width="0.85"/>
<polyline points="326.00,154.92 331.56,155.21 353.80,155.02 381.60,148.62 387.16,139.41 398.28,124.36 403.84,131.58 414.96,154.29 442.76,154.25 470.56,154.33 487.24,154.15 498.36,154.31" fill="none" stroke="#e01a50" stroke-width="0.85"/>
<polyline points="326.00,152.21 342.68,153.37 359.36,152.56 364.92,147.53 376.04,146.75 381.60,149.51 392.72,151.61 398.28,149.93 426.08,150.56 448.32,150.93 459.44,150.86 481.68,151.15 498.36,150.65" fill="none" stroke="#6a2ac0" stroke-width="0.85"/>
<polyline points="326.00,154.92 331.56,155.02 337.12,154.90 342.68,154.99 364.92,154.20 370.48,153.28 376.04,152.48 398.28,154.49 409.40,154.43 431.64,154.53 459.44,154.62 487.24,154.45 498.36,154.57" fill="none" stroke="#7a8aff" stroke-width="0.85"/>
<polyline points="326.00,145.27 331.56,146.16 342.68,144.89 353.80,145.98 364.92,132.64 387.16,132.47 403.84,132.61 414.96,131.98 431.64,131.68 453.88,129.89 465.00,129.37 481.68,129.48 498.36,131.55" fill="none" stroke="#33c0d0" stroke-width="0.85"/>
<polyline points="326.00,150.20 342.68,149.69 353.80,151.34 359.36,151.08 364.92,144.43 370.48,141.27 376.04,142.84 398.28,148.10 403.84,145.52 414.96,147.27 442.76,147.01 465.00,147.47 487.24,147.26 498.36,146.24" fill="none" stroke="#e03ac0" stroke-width="0.85"/>
<polyline points="326.00,148.32 331.56,148.57 337.12,151.43 348.24,150.77 364.92,143.67 370.48,147.18 381.60,144.38 387.16,146.19 403.84,143.32 426.08,146.34 442.76,144.68 465.00,145.66 492.80,146.08 498.36,146.37" fill="none" stroke="#f06a90" stroke-width="0.85"/>
<polyline points="326.00,154.82 337.12,154.41 342.68,154.44 353.80,154.77 376.04,153.00 381.60,153.36 398.28,152.53 409.40,152.75 420.52,152.56 448.32,152.51 470.56,152.75 487.24,152.86 498.36,152.90" fill="none" stroke="#6a2ac0" stroke-width="0.85"/>
<polyline points="326.00,150.49 337.12,148.04 348.24,147.62 359.36,147.41 364.92,143.61 376.04,141.56 381.60,143.29 387.16,141.35 392.72,144.97 409.40,141.69 431.64,141.47 442.76,142.68 465.00,142.63 492.80,142.59 498.36,142.57" fill="none" stroke="#80e040" stroke-width="0.85"/>
<polyline points="326.00,154.44 342.68,154.55 353.80,154.99 364.92,151.96 370.48,151.65 381.60,153.27 387.16,153.91 398.28,154.22 426.08,153.98 442.76,154.08 470.56,153.92 481.68,153.82 498.36,154.08" fill="none" stroke="#ee2a2a" stroke-width="0.85"/>
<polyline points="326.00,153.29 348.24,153.25 359.36,154.26 364.92,150.63 392.72,149.72 398.28,149.77 426.08,150.92 442.76,150.74 465.00,150.53 492.80,150.80 498.36,150.63" fill="none" stroke="#e01a50" stroke-width="0.85"/>
<polyline points="326.00,154.01 348.24,154.57 364.92,153.56 387.16,153.23 398.28,153.74 409.40,153.33 431.64,153.15 442.76,153.37 453.88,153.49 481.68,153.39 498.36,153.36" fill="none" stroke="#4a7cf0" stroke-width="0.85"/>
<polyline points="326.00,153.36 342.68,154.06 353.80,153.85 370.48,146.94 381.60,143.50 387.16,144.29 403.84,151.27 431.64,150.98 448.32,150.58 470.56,151.13 498.36,150.62" fill="none" stroke="#8a3ad0" stroke-width="0.85"/>
<polyline points="326.00,148.01 337.12,150.57 342.68,150.10 364.92,131.82 370.48,129.32 376.04,132.82 392.72,142.23 420.52,142.61 431.64,141.73 459.44,141.89 487.24,141.26 498.36,141.34" fill="none" stroke="#f59a30" stroke-width="0.85"/>
<polyline points="326.00,154.93 359.36,155.18 364.92,154.34 370.48,153.85 376.04,150.41 398.28,128.60 409.40,154.59 437.20,154.57 465.00,154.57 481.68,154.53 498.36,154.51" fill="none" stroke="#6a2ac0" stroke-width="0.85"/>
<polyline points="326.00,154.01 337.12,154.08 342.68,154.02 353.80,154.80 376.04,146.91 381.60,136.44 387.16,126.34 398.28,131.63 409.40,153.27 431.64,153.11 453.88,153.21 470.56,153.00 492.80,153.05 498.36,153.21" fill="none" stroke="#80e040" stroke-width="0.85"/>
<polyline points="326.00,154.30 331.56,154.13 359.36,153.79 370.48,149.88 381.60,141.46 392.72,144.50 398.28,149.62 414.96,152.88 431.64,152.48 459.44,152.57 487.24,152.76 498.36,153.01" fill="none" stroke="#ff5a20" stroke-width="0.85"/>
<polyline points="326.00,151.16 342.68,151.55 353.80,150.65 364.92,147.26 376.04,145.34 381.60,140.31 398.28,134.45 409.40,147.60 431.64,146.55 442.76,146.91 470.56,146.37 481.68,146.33 492.80,147.00 498.36,147.65" fill="none" stroke="#3a30c0" stroke-width="0.85"/>
<polyline points="326.00,154.14 331.56,154.35 353.80,154.24 370.48,150.35 376.04,149.82 403.84,152.02 431.64,152.25 442.76,152.17 453.88,152.22 476.12,152.46 492.80,151.85 498.36,152.08" fill="none" stroke="#e03ac0" stroke-width="0.85"/>
<polyline points="326.00,153.62 337.12,153.73 353.80,153.93 364.92,152.26 387.16,147.37 392.72,149.61 398.28,150.25 403.84,152.44 426.08,152.62 453.88,152.48 465.00,152.73 481.68,152.14 498.36,152.47" fill="none" stroke="#55cc33" stroke-width="0.85"/>
<polyline points="326.00,155.25 331.56,154.97 359.36,155.11 381.60,136.67 392.72,145.02 398.28,151.04 426.08,154.47 448.32,154.31 470.56,154.51 487.24,154.42 498.36,154.31" fill="none" stroke="#2aa050" stroke-width="0.85"/>
<polyline points="326.00,154.88 337.12,155.08 342.68,154.74 353.80,155.13 376.04,136.14 381.60,138.76 403.84,154.19 426.08,154.09 453.88,154.21 476.12,154.12 492.80,154.15 498.36,154.24" fill="none" stroke="#33c0d0" stroke-width="0.85"/>
<polyline points="326.00,151.80 331.56,150.52 359.36,151.52 370.48,146.81 381.60,143.78 387.16,141.88 392.72,142.26 403.84,147.94 420.52,148.04 442.76,147.35 459.44,147.52 487.24,147.20 498.36,148.59" fill="none" stroke="#c02a80" stroke-width="0.85"/>
<polyline points="326.00,154.76 331.56,154.99 337.12,154.80 342.68,154.58 364.92,153.38 370.48,152.34 381.60,148.09 387.16,143.39 398.28,143.24 409.40,153.13 426.08,152.99 453.88,153.17 470.56,153.36 492.80,152.91 498.36,152.94" fill="none" stroke="#ff5a20" stroke-width="0.85"/>
<polyline points="326.00,146.09 331.56,148.49 359.36,146.16 370.48,135.40 381.60,135.04 392.72,134.35 398.28,135.88 426.08,137.03 442.76,138.54 465.00,136.10 476.12,137.12 498.36,136.81" fill="none" stroke="#3a30c0" stroke-width="0.85"/>
<polyline points="326.00,154.01 337.12,153.23 359.36,153.28 364.92,145.91 376.04,145.14 381.60,147.84 387.16,150.51 392.72,150.92 414.96,152.09 442.76,152.13 453.88,151.68 470.56,152.25 492.80,151.93 498.36,152.10" fill="none" stroke="#8a3ad0" stroke-width="0.85"/>
<polyline points="326.00,153.40 337.12,153.72 348.24,153.40 353.80,152.33 364.92,150.66 370.48,149.84 381.60,148.27 387.16,148.13 398.28,148.18 420.52,150.43 448.32,149.92 465.00,149.32 476.12,149.90 487.24,149.60 498.36,150.09" fill="none" stroke="#f0e030" stroke-width="0.85"/>
<polyline points="326.00,154.71 331.56,154.29 342.68,154.60 353.80,154.34 370.48,149.99 381.60,138.37 387.16,135.24 392.72,139.75 403.84,150.96 420.52,153.51 431.64,153.39 442.76,153.52 470.56,153.58 487.24,153.63 498.36,153.26" fill="none" stroke="#e01a50" stroke-width="0.85"/>
<polyline points="326.00,154.97 337.12,155.01 348.24,154.74 370.48,137.41 376.04,143.35 387.16,152.70 403.84,152.80 420.52,152.98 437.20,153.01 453.88,153.20 481.68,153.28 498.36,153.08" fill="none" stroke="#a0dd30" stroke-width="0.85"/>
<polyline points="326.00,151.38 337.12,151.61 359.36,151.33 364.92,146.89 376.04,148.49 387.16,147.65 398.28,146.94 403.84,148.73 426.08,146.79 442.76,146.93 470.56,147.60 481.68,147.04 498.36,147.20" fill="none" stroke="#6a2ac0" stroke-width="0.85"/>
<polyline points="326.00,146.54 342.68,147.44 353.80,148.95 359.36,148.59 364.92,136.82 370.48,138.29 381.60,139.84 403.84,137.36 420.52,140.55 442.76,141.06 470.56,139.66 492.80,140.55 498.36,139.79" fill="none" stroke="#7a8aff" stroke-width="0.85"/>
<polyline points="326.00,153.64 331.56,153.37 353.80,154.17 370.48,150.63 376.04,151.97 398.28,151.63 403.84,151.38 414.96,151.59 442.76,151.05 470.56,151.41 487.24,151.33 498.36,150.95" fill="none" stroke="#20b0a0" stroke-width="0.85"/>
<polyline points="326.00,149.85 337.12,147.74 342.68,146.55 359.36,149.79 364.92,132.35 370.48,133.92 387.16,140.84 392.72,141.56 409.40,139.82 431.64,138.56 453.88,139.39 481.68,140.90 492.80,141.20 498.36,140.91" fill="none" stroke="#7a8aff" stroke-width="0.85"/>
<polyline points="326.00,154.66 337.12,154.70 348.24,155.13 359.36,155.04 364.92,152.44 387.16,145.74 403.84,153.16 426.08,153.59 442.76,153.73 470.56,153.43 498.36,153.63" fill="none" stroke="#a0dd30" stroke-width="0.85"/>
<polyline points="326.00,153.60 337.12,153.57 353.80,153.35 364.92,149.97 376.04,146.97 381.60,146.46 392.72,150.20 403.84,151.04 426.08,151.11 453.88,151.63 481.68,151.42 498.36,151.70" fill="none" stroke="#5aa0ff" stroke-width="0.85"/>
<polyline points="326.00,154.24 331.56,154.13 353.80,154.39 370.48,151.16 381.60,149.77 387.16,150.36 392.72,150.74 398.28,151.59 414.96,151.57 431.64,151.96 442.76,152.05 465.00,152.14 487.24,152.15 498.36,152.06" fill="none" stroke="#a0dd30" stroke-width="0.85"/>
<polyline points="326.00,154.76 342.68,154.52 348.24,154.89 353.80,154.65 370.48,153.34 376.04,150.60 387.16,133.36 409.40,153.92 431.64,153.76 442.76,154.00 459.44,154.00 470.56,154.09 487.24,154.04 498.36,154.00" fill="none" stroke="#8a3ad0" stroke-width="0.85"/>
<polyline points="326.00,154.75 342.68,154.54 353.80,154.68 359.36,154.51 364.92,152.15 370.48,150.29 376.04,148.42 381.60,148.72 392.72,152.24 403.84,153.10 414.96,153.42 437.20,153.55 453.88,153.38 465.00,153.56 481.68,153.27 498.36,153.42" fill="none" stroke="#ee2a2a" stroke-width="0.85"/>
<polyline points="326.00,144.06 331.56,146.37 342.68,145.69 353.80,145.39 364.92,122.64 376.04,108.20 392.72,123.96 398.28,131.87 409.40,131.21 420.52,133.48 437.20,131.35 453.88,131.11 470.56,131.05 481.68,133.24 498.36,131.07" fill="none" stroke="#c8c820" stroke-width="0.85"/>
<polyline points="326.00,152.25 331.56,153.22 348.24,153.58 353.80,153.54 370.48,144.42 376.04,142.06 381.60,144.53 392.72,150.48 398.28,150.31 409.40,151.46 420.52,150.78 437.20,151.22 448.32,151.10 459.44,151.36 476.12,150.95 492.80,151.26 498.36,151.38" fill="none" stroke="#ff5a20" stroke-width="0.85"/>
<polyline points="326.00,155.17 342.68,155.12 348.24,155.13 359.36,155.09 364.92,154.23 381.60,153.82 398.28,154.08 414.96,153.92 426.08,153.98 448.32,154.09 459.44,153.93 481.68,153.99 498.36,153.93" fill="none" stroke="#ee2a2a" stroke-width="0.85"/>
<polyline points="326.00,147.91 337.12,150.45 342.68,151.45 364.92,141.42 381.60,136.43 392.72,147.18 403.84,145.10 414.96,147.29 442.76,146.22 459.44,147.38 487.24,147.25 498.36,146.31" fill="none" stroke="#8a3ad0" stroke-width="0.85"/>
<polyline points="326.00,153.47 331.56,153.45 337.12,153.94 353.80,154.52 364.92,151.08 376.04,142.48 381.60,135.65 409.40,151.40 420.52,151.01 431.64,151.41 442.76,151.14 465.00,151.04 476.12,151.81 487.24,151.03 498.36,151.13" fill="none" stroke="#4a7cf0" stroke-width="0.85"/>
<polyline points="326.00,150.62 331.56,149.80 342.68,150.10 364.92,146.75 381.60,147.39 387.16,148.50 392.72,148.75 398.28,147.37 409.40,148.91 431.64,148.91 442.76,148.88 470.56,149.25 492.80,148.05 498.36,149.45" fill="none" stroke="#33c0d0" stroke-width="0.85"/>
<polyline points="326.00,153.09 331.56,152.93 337.12,153.42 359.36,153.31 364.92,148.73 370.48,150.42 392.72,134.50 398.28,131.28 426.08,150.05 448.32,149.66 476.12,150.04 487.24,149.88 498.36,149.78" fill="none" stroke="#5aa0ff" stroke-width="0.85"/>
<polyline points="326.00,149.01 342.68,150.94 348.24,149.06 370.48,138.31 376.04,135.34 381.60,137.55 392.72,139.93 403.84,138.45 426.08,141.43 442.76,141.31 459.44,139.82 481.68,141.12 498.36,141.17" fill="none" stroke="#ffcc33" stroke-width="0.85"/>
<polyline points="326.00,154.15 331.56,154.42 342.68,154.29 348.24,154.32 370.48,146.46 387.16,148.94 403.84,152.92 420.52,152.57 437.20,152.89 448.32,152.82 465.00,152.47 487.24,152.75 498.36,152.72" fill="none" stroke="#a0dd30" stroke-width="0.85"/>
<polyline points="326.00,154.51 337.12,154.40 348.24,154.72 364.92,145.91 387.16,132.50 392.72,143.11 398.28,150.48 403.84,151.90 426.08,152.89 437.20,153.08 459.44,152.92 487.24,153.11 498.36,153.25" fill="none" stroke="#33c0d0" stroke-width="0.85"/>
<polyline points="326.00,154.51 331.56,153.90 359.36,154.63 398.28,146.55 403.84,150.84 420.52,151.74 431.64,151.43 459.44,151.94 487.24,151.91 498.36,151.86" fill="none" stroke="#ff5a20" stroke-width="0.85"/>
<polyline points="326.00,154.80 331.56,154.89 348.24,154.86 364.92,154.44 370.48,154.32 381.60,154.20 403.84,154.52 426.08,154.06 453.88,154.28 465.00,154.29 492.80,154.27 498.36,154.29" fill="none" stroke="#ff5a20" stroke-width="0.85"/>
<polyline points="326.00,152.67 337.12,153.62 342.68,152.31 381.60,132.07 387.16,134.76 398.28,146.19 414.96,149.55 426.08,149.47 442.76,150.34 465.00,150.27 492.80,149.20 498.36,149.35" fill="none" stroke="#3a30c0" stroke-width="0.85"/>
<polyline points="326.00,154.32 337.12,154.90 353.80,154.52 381.60,149.61 398.28,147.20 403.84,150.65 414.96,153.62 431.64,153.74 459.44,153.67 470.56,153.67 481.68,153.82 498.36,153.86" fill="none" stroke="#55cc33" stroke-width="0.85"/>
<polyline points="326.00,155.20 331.56,154.80 337.12,155.07 348.24,155.10 364.92,154.06 370.48,154.17 381.60,152.77 387.16,151.34 398.28,149.26 426.08,154.18 453.88,154.01 470.56,154.24 481.68,154.02 498.36,153.96" fill="none" stroke="#f59a30" stroke-width="0.85"/>
<polyline points="326.00,144.43 337.12,148.46 353.80,143.89 359.36,143.48 370.48,129.92 376.04,132.85 381.60,135.24 403.84,136.70 431.64,134.46 453.88,135.49 481.68,133.73 492.80,137.13 498.36,135.54" fill="none" stroke="#c02a80" stroke-width="0.85"/>
<polyline points="326.00,152.94 337.12,152.69 342.68,152.98 348.24,152.92 364.92,151.29 370.48,149.75 387.16,149.80 392.72,149.98 409.40,150.50 426.08,150.19 448.32,150.87 459.44,150.82 476.12,150.57 498.36,150.95" fill="none" stroke="#3a30c0" stroke-width="0.85"/>
<polyline points="326.00,153.93 331.56,153.73 342.68,153.86 370.48,149.21 376.04,149.44 392.72,151.39 403.84,151.58 431.64,151.04 453.88,151.54 470.56,151.33 492.80,150.68 498.36,151.31" fill="none" stroke="#55cc33" stroke-width="0.85"/>
<polyline points="326.00,154.52 337.12,154.86 353.80,154.74 364.92,149.67 370.48,148.78 403.84,153.94 420.52,153.53 437.20,153.73 448.32,153.72 465.00,153.48 481.68,153.60 498.36,153.46" fill="none" stroke="#20b0a0" stroke-width="0.85"/>
<polyline points="326.00,155.29 337.12,155.23 353.80,155.03 359.36,155.06 370.48,154.91 376.04,154.83 387.16,154.91 392.72,154.89 403.84,154.88 414.96,154.80 437.20,154.67 465.00,154.66 492.80,154.70 498.36,154.77" fill="none" stroke="#33c0d0" stroke-width="0.85"/>
<polyline points="326.00,152.76 331.56,152.59 337.12,152.64 359.36,152.89 364.92,149.32 370.48,149.39 392.72,149.87 398.28,150.23 414.96,149.71 442.76,149.75 470.56,149.66 487.24,150.31 498.36,149.55" fill="none" stroke="#c8c820" stroke-width="0.85"/>
<polyline points="326.00,152.29 337.12,153.00 342.68,151.74 364.92,145.39 381.60,147.21 403.84,146.27 431.64,146.00 459.44,146.08 481.68,147.53 498.36,146.64" fill="none" stroke="#20b0a0" stroke-width="0.85"/>
<polyline points="326.00,149.12 342.68,148.15 348.24,145.86 353.80,147.24 370.48,136.99 376.04,133.38 381.60,130.97 392.72,108.20 420.52,140.34 448.32,137.68 459.44,139.86 481.68,139.56 498.36,137.23" fill="none" stroke="#ee2a2a" stroke-width="0.85"/>
<polyline points="326.00,154.82 342.68,154.66 353.80,154.79 364.92,146.82 376.04,136.06 381.60,139.09 398.28,153.24 414.96,154.28 426.08,154.22 442.76,154.19 470.56,154.25 492.80,154.27 498.36,154.26" fill="none" stroke="#2aa050" stroke-width="0.85"/>
<polyline points="326.00,151.50 331.56,151.45 359.36,153.07 364.92,146.29 392.72,134.55 403.84,142.75 414.96,145.85 442.76,147.23 470.56,146.41 492.80,146.43 498.36,147.41" fill="none" stroke="#3a30c0" stroke-width="0.85"/>
<polyline points="326.00,154.72 337.12,154.90 342.68,155.14 353.80,154.88 364.92,152.94 370.48,151.88 398.28,151.23 426.08,154.05 448.32,153.95 470.56,153.87 492.80,153.81 498.36,153.72" fill="none" stroke="#c02a80" stroke-width="0.85"/>
<polyline points="326.00,154.59 337.12,154.14 342.68,154.68 381.60,142.09 392.72,149.41 398.28,151.95 403.84,152.04 414.96,152.51 437.20,152.42 459.44,152.72 487.24,152.82 498.36,152.43" fill="none" stroke="#e01a50" stroke-width="0.85"/>
<polyline points="326.00,150.92 342.68,151.14 348.24,151.16 370.48,148.08 387.16,132.77 398.28,130.93 403.84,137.63 414.96,146.91 426.08,146.54 448.32,147.84 470.56,147.82 492.80,146.89 498.36,146.86" fill="none" stroke="#c8c820" stroke-width="0.85"/>
<polyline points="326.00,149.40 342.68,149.99 348.24,150.27 376.04,134.43 387.16,138.52 398.28,145.88 414.96,145.07 437.20,145.19 448.32,145.09 476.12,146.47 487.24,145.42 498.36,145.26" fill="none" stroke="#f0e030" stroke-width="0.85"/>
<polyline points="326.00,155.08 342.68,154.92 348.24,155.22 359.36,154.86 370.48,154.17 376.04,154.39 387.16,153.95 398.28,154.30 414.96,154.12 431.64,154.20 453.88,154.06 465.00,154.02 487.24,153.94 498.36,154.21" fill="none" stroke="#6a2ac0" stroke-width="0.85"/>
<polyline points="326.00,154.84 337.12,155.15 353.80,155.23 364.92,145.95 381.60,147.18 387.16,150.80 403.84,154.00 414.96,153.89 437.20,153.81 465.00,154.12 487.24,154.00 498.36,153.94" fill="none" stroke="#ff5a20" stroke-width="0.85"/>
<polyline points="326.00,144.57 348.24,145.87 359.36,146.33 370.48,109.69 381.60,126.04 392.72,137.46 403.84,137.29 431.64,135.14 448.32,134.56 470.56,133.45 487.24,134.37 498.36,133.55" fill="none" stroke="#ffcc33" stroke-width="0.85"/>
<polyline points="326.00,122.06 331.56,128.09 337.12,131.70 342.68,136.52 353.80,141.34 364.92,134.11 376.04,124.47 387.16,131.70 403.84,138.93 437.20,142.55" fill="none" stroke="#7ab4f4" stroke-width="1.0"/>
<polyline points="326.00,130.50 342.68,124.47 359.36,132.91 370.48,128.09 381.60,117.24 392.72,131.70 414.96,141.34 459.44,142.55" fill="none" stroke="#6cc644" stroke-width="1.0"/>
<polyline points="370.48,137.73 376.04,125.68 381.38,119.65 381.88,71.18 383.27,65.70 388.27,61.68 393.83,40.20 398.84,36.72 404.40,51.00 411.07,69.83 415.52,87.38 421.08,96.71 424.97,108.93 428.86,120.13 437.20,134.11 448.32,140.14" fill="none" stroke="#6cc644" stroke-width="1.0"/>
<polyline points="364.92,141.34 373.26,122.06 380.77,79.28 387.16,86.70 398.84,82.43 405.51,94.01 408.84,108.81 412.18,129.29 420.52,141.34" fill="none" stroke="#6cc644" stroke-width="1.0"/>
<polyline points="364.92,141.34 370.48,125.68 376.43,77.09 380.49,102.45 383.27,129.29 392.72,140.14" fill="none" stroke="#e8343c" stroke-width="1.0"/>
<polyline points="367.70,131.70 371.59,96.83 376.04,92.78 381.60,92.10 387.16,94.12 389.38,100.88 392.16,125.68 398.28,137.73" fill="none" stroke="#e8343c" stroke-width="1.0"/>
<polyline points="376.04,137.73 384.38,119.65 389.38,92.78 394.94,88.73 400.50,95.48 406.06,107.60 409.96,119.65 414.96,131.70" fill="none" stroke="#f2e640" stroke-width="1.0"/>
<polyline points="348.24,141.34 356.58,128.09 358.80,100.20 395.50,100.20 398.28,108.81 411.07,110.01 431.08,112.18 451.10,117.96 470.56,119.89 490.58,121.82 500.58,124.35" fill="none" stroke="#f2e640" stroke-width="1.0"/>
<polyline points="392.72,134.11 411.07,127.60 424.41,128.57 439.98,124.71 449.99,123.75 454.99,104.25 460.55,122.06 467.22,119.05 477.23,125.92 483.90,119.65 488.91,128.69 495.02,104.25 500.58,128.69" fill="none" stroke="#6cc644" stroke-width="1.0"/>
<polyline points="414.96,141.34 451.10,131.70 461.11,118.93 470.56,123.87 482.24,131.70 498.36,138.93" fill="none" stroke="#f59a30" stroke-width="1.0"/>
<polyline points="364.92,131.70 370.48,119.65 376.04,110.01 387.16,111.22 395.50,112.42 411.07,130.50 420.52,129.89 439.98,130.50 459.44,132.91 479.46,135.31 500.58,134.11" fill="none" stroke="#5b8ef0" stroke-width="1.0"/>
<polyline points="359.36,137.73 367.70,117.24 373.26,112.42 381.60,122.06 387.16,116.04 392.72,129.29 403.84,137.73" fill="none" stroke="#5b8ef0" stroke-width="1.0"/>
<polyline points="370.48,137.73 378.82,116.04 384.38,124.47 389.94,114.83 398.28,134.11" fill="none" stroke="#9a4fd0" stroke-width="1.0"/>
<polyline points="370.48,141.34 376.04,126.88 381.60,119.65 387.16,129.29 395.50,138.93" fill="none" stroke="#e040b8" stroke-width="1.0"/>
<polyline points="353.80,143.75 364.92,124.47 373.26,108.81 381.60,119.65 392.72,131.70 403.84,141.34" fill="none" stroke="#8888ff" stroke-width="1.0"/>
<polyline points="437.20,135.31 465.00,132.91 478.90,127.48 484.46,135.31 498.36,137.73" fill="none" stroke="#e8343c" stroke-width="1.0"/>
</g>
<polyline points="326.00,153.09 343.24,152.19 360.47,148.69 369.37,145.32 377.71,140.86 384.94,136.64 389.38,129.65 393.00,122.78 395.50,124.47 398.84,131.34 402.17,138.45 407.18,141.82 416.07,144.35 421.63,146.76 438.87,147.79 457.77,148.81 477.23,147.79 498.36,147.37" fill="none" stroke="#000" stroke-width="2.0" stroke-dasharray="4 2.6"/>
<rect x="327" y="105.2" width="174" height="1.6" fill="#fff"/>
<rect x="327" y="66.6" width="174" height="1.4" fill="#fff"/>
<line x1="326.2" y1="28.0" x2="326.2" y2="156.4" stroke="#000" stroke-width="1.2"/>
<line x1="325.59999999999997" y1="155.8" x2="502.3" y2="155.8" stroke="#000" stroke-width="1.2"/>
<line x1="322.5" y1="155.8" x2="326.2" y2="155.8" stroke="#000" stroke-width="1.1"/>
<text x="318.6" y="159.1294" font-size="9.3" text-anchor="end" textLength="5.9" lengthAdjust="spacingAndGlyphs" fill="#000">0</text>
<line x1="322.5" y1="143.75" x2="326.2" y2="143.75" stroke="#000" stroke-width="1.1"/>
<text x="318.6" y="147.0794" font-size="9.3" text-anchor="end" textLength="23.5" lengthAdjust="spacingAndGlyphs" fill="#000">1000</text>
<line x1="322.5" y1="131.70000000000002" x2="326.2" y2="131.70000000000002" stroke="#000" stroke-width="1.1"/>
<text x="318.6" y="135.0294" font-size="9.3" text-anchor="end" textLength="23.5" lengthAdjust="spacingAndGlyphs" fill="#000">2000</text>
<line x1="322.5" y1="119.65" x2="326.2" y2="119.65" stroke="#000" stroke-width="1.1"/>
<text x="318.6" y="122.97940000000001" font-size="9.3" text-anchor="end" textLength="23.5" lengthAdjust="spacingAndGlyphs" fill="#000">3000</text>
<text x="318.6" y="110.72940000000001" font-size="9.3" text-anchor="end" textLength="23.5" lengthAdjust="spacingAndGlyphs" fill="#000">4000</text>
<line x1="322.5" y1="91.2" x2="326.2" y2="91.2" stroke="#000" stroke-width="1.1"/>
<text x="318.6" y="94.52940000000001" font-size="9.3" text-anchor="end" textLength="29.5" lengthAdjust="spacingAndGlyphs" fill="#000">10000</text>
<line x1="322.5" y1="79.95" x2="326.2" y2="79.95" stroke="#000" stroke-width="1.1"/>
<text x="318.6" y="83.27940000000001" font-size="9.3" text-anchor="end" textLength="29.5" lengthAdjust="spacingAndGlyphs" fill="#000">15000</text>
<text x="318.6" y="72.22940000000001" font-size="9.3" text-anchor="end" textLength="29.5" lengthAdjust="spacingAndGlyphs" fill="#000">20000</text>
<line x1="322.5" y1="54.0" x2="326.2" y2="54.0" stroke="#000" stroke-width="1.1"/>
<text x="318.6" y="57.3294" font-size="9.3" text-anchor="end" textLength="29.5" lengthAdjust="spacingAndGlyphs" fill="#000">40000</text>
<line x1="322.5" y1="42.0" x2="326.2" y2="42.0" stroke="#000" stroke-width="1.1"/>
<text x="318.6" y="45.3294" font-size="9.3" text-anchor="end" textLength="29.5" lengthAdjust="spacingAndGlyphs" fill="#000">60000</text>
<line x1="322.5" y1="30.0" x2="326.2" y2="30.0" stroke="#000" stroke-width="1.1"/>
<text x="318.6" y="33.3294" font-size="9.3" text-anchor="end" textLength="29.5" lengthAdjust="spacingAndGlyphs" fill="#000">80000</text>
<line x1="323.6" y1="64.8" x2="328.8" y2="70.2" stroke="#000" stroke-width="1.9"/>
<line x1="323.6" y1="102.6" x2="328.6" y2="107.4" stroke="#000" stroke-width="1.2"/>
<line x1="323.9" y1="104.6" x2="328.9" y2="109.4" stroke="#000" stroke-width="1.2"/>
<line x1="326.0" y1="155.8" x2="326.0" y2="159.4" stroke="#000" stroke-width="1.0"/>
<line x1="331.56" y1="155.8" x2="331.56" y2="157.70000000000002" stroke="#000" stroke-width="1.0"/>
<line x1="337.12" y1="155.8" x2="337.12" y2="157.70000000000002" stroke="#000" stroke-width="1.0"/>
<line x1="342.68" y1="155.8" x2="342.68" y2="157.70000000000002" stroke="#000" stroke-width="1.0"/>
<line x1="348.24" y1="155.8" x2="348.24" y2="157.70000000000002" stroke="#000" stroke-width="1.0"/>
<line x1="353.8" y1="155.8" x2="353.8" y2="157.70000000000002" stroke="#000" stroke-width="1.0"/>
<line x1="359.36" y1="155.8" x2="359.36" y2="157.70000000000002" stroke="#000" stroke-width="1.0"/>
<line x1="364.92" y1="155.8" x2="364.92" y2="157.70000000000002" stroke="#000" stroke-width="1.0"/>
<line x1="370.48" y1="155.8" x2="370.48" y2="157.70000000000002" stroke="#000" stroke-width="1.0"/>
<line x1="376.04" y1="155.8" x2="376.04" y2="157.70000000000002" stroke="#000" stroke-width="1.0"/>
<line x1="381.6" y1="155.8" x2="381.6" y2="159.4" stroke="#000" stroke-width="1.0"/>
<line x1="387.15999999999997" y1="155.8" x2="387.15999999999997" y2="157.70000000000002" stroke="#000" stroke-width="1.0"/>
<line x1="392.72" y1="155.8" x2="392.72" y2="157.70000000000002" stroke="#000" stroke-width="1.0"/>
<line x1="398.28" y1="155.8" x2="398.28" y2="157.70000000000002" stroke="#000" stroke-width="1.0"/>
<line x1="403.84" y1="155.8" x2="403.84" y2="157.70000000000002" stroke="#000" stroke-width="1.0"/>
<line x1="409.4" y1="155.8" x2="409.4" y2="157.70000000000002" stroke="#000" stroke-width="1.0"/>
<line x1="414.96" y1="155.8" x2="414.96" y2="157.70000000000002" stroke="#000" stroke-width="1.0"/>
<line x1="420.52" y1="155.8" x2="420.52" y2="157.70000000000002" stroke="#000" stroke-width="1.0"/>
<line x1="426.08" y1="155.8" x2="426.08" y2="157.70000000000002" stroke="#000" stroke-width="1.0"/>
<line x1="431.64" y1="155.8" x2="431.64" y2="157.70000000000002" stroke="#000" stroke-width="1.0"/>
<line x1="437.2" y1="155.8" x2="437.2" y2="159.4" stroke="#000" stroke-width="1.0"/>
<line x1="442.76" y1="155.8" x2="442.76" y2="157.70000000000002" stroke="#000" stroke-width="1.0"/>
<line x1="448.32" y1="155.8" x2="448.32" y2="157.70000000000002" stroke="#000" stroke-width="1.0"/>
<line x1="453.88" y1="155.8" x2="453.88" y2="157.70000000000002" stroke="#000" stroke-width="1.0"/>
<line x1="459.44" y1="155.8" x2="459.44" y2="157.70000000000002" stroke="#000" stroke-width="1.0"/>
<line x1="465.0" y1="155.8" x2="465.0" y2="157.70000000000002" stroke="#000" stroke-width="1.0"/>
<line x1="470.56" y1="155.8" x2="470.56" y2="157.70000000000002" stroke="#000" stroke-width="1.0"/>
<line x1="476.12" y1="155.8" x2="476.12" y2="157.70000000000002" stroke="#000" stroke-width="1.0"/>
<line x1="481.67999999999995" y1="155.8" x2="481.67999999999995" y2="157.70000000000002" stroke="#000" stroke-width="1.0"/>
<line x1="487.24" y1="155.8" x2="487.24" y2="157.70000000000002" stroke="#000" stroke-width="1.0"/>
<line x1="492.79999999999995" y1="155.8" x2="492.79999999999995" y2="159.4" stroke="#000" stroke-width="1.0"/>
<line x1="498.36" y1="155.8" x2="498.36" y2="157.70000000000002" stroke="#000" stroke-width="1.0"/>
<text x="326.0" y="171.8" font-size="9.5" text-anchor="middle" textLength="5.9" lengthAdjust="spacingAndGlyphs" fill="#000">0</text>
<text x="381.6" y="171.8" font-size="9.5" text-anchor="middle" textLength="11.6" lengthAdjust="spacingAndGlyphs" fill="#000">10</text>
<text x="437.2" y="171.8" font-size="9.5" text-anchor="middle" textLength="11.6" lengthAdjust="spacingAndGlyphs" fill="#000">20</text>
<text x="492.79999999999995" y="171.8" font-size="9.5" text-anchor="middle" textLength="11.6" lengthAdjust="spacingAndGlyphs" fill="#000">30</text>
<text x="416.2" y="188.6" font-size="11.8" text-anchor="middle" textLength="107" lengthAdjust="spacingAndGlyphs" fill="#000" stroke="#000" stroke-width="0.38">Days post CAR T cell infusion</text>
<text x="282.1" y="91.35" font-size="11.8" text-anchor="middle" textLength="27.2" lengthAdjust="spacingAndGlyphs" transform="rotate(-90 282.1 91.35)" fill="#000" stroke="#000" stroke-width="0.38">ALC/&#956;l</text>
<text x="9.3" y="215.1" font-size="14.4" font-weight="bold" fill="#000" stroke="#000" stroke-width="0.25">C</text>
<defs><filter id="mottle" x="0" y="0" width="1" height="1" color-interpolation-filters="sRGB"><feTurbulence type="fractalNoise" baseFrequency="0.38" numOctaves="2" seed="4" result="n"/><feColorMatrix in="n" type="matrix" values="0 0 0 0 0.80  0 0 0 0 0.78  0 0 0 0 0.95  2.2 0 0 0 -1.05" result="spots"/><feComposite in="spots" in2="SourceGraphic" operator="in"/></filter><filter id="mottle2" x="0" y="0" width="1" height="1" color-interpolation-filters="sRGB"><feTurbulence type="fractalNoise" baseFrequency="0.42" numOctaves="2" seed="9" result="n"/><feColorMatrix in="n" type="matrix" values="0 0 0 0 0.12  0 0 0 0 0.08  0 0 0 0 0.40  0 2.2 0 0 -1.05" result="spots"/><feComposite in="spots" in2="SourceGraphic" operator="in"/></filter></defs>
<clipPath id="c1"><rect x="30.5" y="223.5" width="74.1" height="74.80000000000001"/></clipPath>
<g clip-path="url(#c1)">
<rect x="30.5" y="223.5" width="74.1" height="74.80000000000001" fill="#f6e5cf"/>
<g transform="translate(42.6 226.9) rotate(0)"><ellipse rx="6.42" ry="6.42" fill="#9a789e"/><ellipse rx="5.46" ry="5.46" fill="#a4829f"/><ellipse rx="2.70" ry="2.70" fill="#ba9cae"/><ellipse rx="1.41" ry="1.41" fill="#d6c2bc"/></g>
<g transform="translate(56.5 228.5) rotate(0)"><ellipse rx="5.885000000000001" ry="5.885000000000001" fill="#9a789e"/><ellipse rx="5.00" ry="5.00" fill="#a4829f"/><ellipse rx="2.47" ry="2.47" fill="#ba9cae"/><ellipse rx="1.29" ry="1.29" fill="#d6c2bc"/></g>
<g transform="translate(72.6 229.2) rotate(0)"><ellipse rx="6.42" ry="6.42" fill="#9a789e"/><ellipse rx="5.46" ry="5.46" fill="#a4829f"/><ellipse rx="2.70" ry="2.70" fill="#ba9cae"/><ellipse rx="1.41" ry="1.41" fill="#d6c2bc"/></g>
<g transform="translate(32.6 253.8) rotate(0)"><ellipse rx="8.56" ry="9.63" fill="#9a789e"/><ellipse rx="7.28" ry="8.19" fill="#a4829f"/><ellipse rx="3.60" ry="4.04" fill="#ba9cae"/><ellipse rx="1.88" ry="2.12" fill="#d6c2bc"/></g>
<g transform="translate(89.5 256.2) rotate(0)"><ellipse rx="6.42" ry="6.42" fill="#9a789e"/><ellipse rx="5.46" ry="5.46" fill="#a4829f"/><ellipse rx="2.70" ry="2.70" fill="#ba9cae"/><ellipse rx="1.41" ry="1.41" fill="#d6c2bc"/></g>
<g transform="translate(101 258.5) rotate(0)"><ellipse rx="5.885000000000001" ry="5.885000000000001" fill="#9a789e"/><ellipse rx="5.00" ry="5.00" fill="#a4829f"/><ellipse rx="2.47" ry="2.47" fill="#ba9cae"/><ellipse rx="1.29" ry="1.29" fill="#d6c2bc"/></g>
<g transform="translate(91 270.8) rotate(0)"><ellipse rx="5.885000000000001" ry="5.885000000000001" fill="#9a789e"/><ellipse rx="5.00" ry="5.00" fill="#a4829f"/><ellipse rx="2.47" ry="2.47" fill="#ba9cae"/><ellipse rx="1.29" ry="1.29" fill="#d6c2bc"/></g>
<g transform="translate(98.8 280) rotate(0)"><ellipse rx="5.885000000000001" ry="5.885000000000001" fill="#9a789e"/><ellipse rx="5.00" ry="5.00" fill="#a4829f"/><ellipse rx="2.47" ry="2.47" fill="#ba9cae"/><ellipse rx="1.29" ry="1.29" fill="#d6c2bc"/></g>
<g transform="translate(34.2 287.7) rotate(0)"><ellipse rx="6.42" ry="6.42" fill="#9a789e"/><ellipse rx="5.46" ry="5.46" fill="#a4829f"/><ellipse rx="2.70" ry="2.70" fill="#ba9cae"/><ellipse rx="1.41" ry="1.41" fill="#d6c2bc"/></g>
<g transform="translate(46.5 291.5) rotate(0)"><ellipse rx="6.42" ry="6.42" fill="#9a789e"/><ellipse rx="5.46" ry="5.46" fill="#a4829f"/><ellipse rx="2.70" ry="2.70" fill="#ba9cae"/><ellipse rx="1.41" ry="1.41" fill="#d6c2bc"/></g>
<g transform="translate(59.5 284.6) rotate(0)"><ellipse rx="5.885000000000001" ry="6.955" fill="#9a789e"/><ellipse rx="5.00" ry="5.91" fill="#a4829f"/><ellipse rx="2.47" ry="2.92" fill="#ba9cae"/><ellipse rx="1.29" ry="1.53" fill="#d6c2bc"/></g>
<g transform="translate(77.2 283.8) rotate(0)"><ellipse rx="7.49" ry="6.42" fill="#9a789e"/><ellipse rx="6.37" ry="5.46" fill="#a4829f"/><ellipse rx="3.15" ry="2.70" fill="#ba9cae"/><ellipse rx="1.65" ry="1.41" fill="#d6c2bc"/></g>
<g transform="translate(91 293.8) rotate(0)"><ellipse rx="5.885000000000001" ry="5.885000000000001" fill="#9a789e"/><ellipse rx="5.00" ry="5.00" fill="#a4829f"/><ellipse rx="2.47" ry="2.47" fill="#ba9cae"/><ellipse rx="1.29" ry="1.29" fill="#d6c2bc"/></g>
<g transform="translate(62 299) rotate(0)"><ellipse rx="5.3500000000000005" ry="5.3500000000000005" fill="#9a789e"/><ellipse rx="4.55" ry="4.55" fill="#a4829f"/><ellipse rx="2.25" ry="2.25" fill="#ba9cae"/><ellipse rx="1.18" ry="1.18" fill="#d6c2bc"/></g>
<g transform="translate(104 243) rotate(0)"><ellipse rx="5.3500000000000005" ry="5.3500000000000005" fill="#9a789e"/><ellipse rx="4.55" ry="4.55" fill="#a4829f"/><ellipse rx="2.25" ry="2.25" fill="#ba9cae"/><ellipse rx="1.18" ry="1.18" fill="#d6c2bc"/></g>
<path d="M52.6 246.9 L58.8 240.0 L66.5 238.2 L75.7 241.5 L81.1 247.7 L82.2 255.4 L81.1 261.5 L83.4 266.9 L78.8 273.8 L71.1 278.5 L62.6 277.2 L55.7 270.8 L52.6 261.5 L51.8 253.8Z" fill="#5650b0" stroke="#2e2a88" stroke-width="0.9" stroke-linejoin="round"/>
<path d="M67.2 250.8 L74.2 246.9 L81.1 250.8 L81.8 260.0 L80.3 270.8 L74.2 276.2 L68.8 270.8Z" fill="#463c9c" stroke-linejoin="round"/>
<path d="M52.6 246.9 L58.8 240.0 L66.5 238.2 L75.7 241.5 L81.1 247.7 L82.2 255.4 L81.1 261.5 L83.4 266.9 L78.8 273.8 L71.1 278.5 L62.6 277.2 L55.7 270.8 L52.6 261.5 L51.8 253.8Z" fill="#fff" filter="url(#mottle)" stroke-linejoin="round"/><path d="M52.6 246.9 L58.8 240.0 L66.5 238.2 L75.7 241.5 L81.1 247.7 L82.2 255.4 L81.1 261.5 L83.4 266.9 L78.8 273.8 L71.1 278.5 L62.6 277.2 L55.7 270.8 L52.6 261.5 L51.8 253.8Z" fill="#fff" filter="url(#mottle2)" stroke-linejoin="round"/>
<path d="M67.2 250.8 L74.2 246.9 L81.1 250.8 L81.8 260.0 L80.3 270.8 L74.2 276.2 L68.8 270.8Z" fill="#fff" filter="url(#mottle)" stroke-linejoin="round"/><path d="M67.2 250.8 L74.2 246.9 L81.1 250.8 L81.8 260.0 L80.3 270.8 L74.2 276.2 L68.8 270.8Z" fill="#fff" filter="url(#mottle2)" stroke-linejoin="round"/>
</g>
<text x="76.2" y="233.5" font-size="7.6" text-anchor="middle" font-weight="bold" fill="#111">HP-123 d5</text>
<clipPath id="c2"><rect x="109.9" y="223.5" width="78.5" height="74.80000000000001"/></clipPath>
<g clip-path="url(#c2)">
<rect x="109.9" y="223.5" width="78.5" height="74.80000000000001" fill="#f6e5cf"/>
<g transform="translate(116.7 240.5) rotate(0)"><ellipse rx="8.025" ry="8.025" fill="#9a789e"/><ellipse rx="6.82" ry="6.82" fill="#a4829f"/><ellipse rx="3.37" ry="3.37" fill="#ba9cae"/><ellipse rx="1.77" ry="1.77" fill="#d6c2bc"/></g>
<g transform="translate(112.7 226.3) rotate(0)"><ellipse rx="6.42" ry="6.42" fill="#9a789e"/><ellipse rx="5.46" ry="5.46" fill="#a4829f"/><ellipse rx="2.70" ry="2.70" fill="#ba9cae"/><ellipse rx="1.41" ry="1.41" fill="#d6c2bc"/></g>
<g transform="translate(137.2 231.6) rotate(0)"><ellipse rx="9.095" ry="9.095" fill="#9a789e"/><ellipse rx="7.73" ry="7.73" fill="#a4829f"/><ellipse rx="3.82" ry="3.82" fill="#ba9cae"/><ellipse rx="2.00" ry="2.00" fill="#d6c2bc"/></g>
<g transform="translate(160 228.7) rotate(0)"><ellipse rx="6.955" ry="6.955" fill="#9a789e"/><ellipse rx="5.91" ry="5.91" fill="#a4829f"/><ellipse rx="2.92" ry="2.92" fill="#ba9cae"/><ellipse rx="1.53" ry="1.53" fill="#d6c2bc"/></g>
<g transform="translate(180.6 228.7) rotate(0)"><ellipse rx="7.49" ry="7.49" fill="#9a789e"/><ellipse rx="6.37" ry="6.37" fill="#a4829f"/><ellipse rx="3.15" ry="3.15" fill="#ba9cae"/><ellipse rx="1.65" ry="1.65" fill="#d6c2bc"/></g>
<g transform="translate(166.4 242) rotate(0)"><ellipse rx="9.095" ry="9.095" fill="#9a789e"/><ellipse rx="7.73" ry="7.73" fill="#a4829f"/><ellipse rx="3.82" ry="3.82" fill="#ba9cae"/><ellipse rx="2.00" ry="2.00" fill="#d6c2bc"/></g>
<g transform="translate(179 240.5) rotate(0)"><ellipse rx="7.49" ry="7.49" fill="#9a789e"/><ellipse rx="6.37" ry="6.37" fill="#a4829f"/><ellipse rx="3.15" ry="3.15" fill="#ba9cae"/><ellipse rx="1.65" ry="1.65" fill="#d6c2bc"/></g>
<g transform="translate(184.5 254.7) rotate(0)"><ellipse rx="6.955" ry="6.955" fill="#9a789e"/><ellipse rx="5.91" ry="5.91" fill="#a4829f"/><ellipse rx="2.92" ry="2.92" fill="#ba9cae"/><ellipse rx="1.53" ry="1.53" fill="#d6c2bc"/></g>
<g transform="translate(171 264.2) rotate(0)"><ellipse rx="8.56" ry="8.56" fill="#9a789e"/><ellipse rx="7.28" ry="7.28" fill="#a4829f"/><ellipse rx="3.60" ry="3.60" fill="#ba9cae"/><ellipse rx="1.88" ry="1.88" fill="#d6c2bc"/></g>
<g transform="translate(166.4 278.4) rotate(0)"><ellipse rx="8.025" ry="8.025" fill="#9a789e"/><ellipse rx="6.82" ry="6.82" fill="#a4829f"/><ellipse rx="3.37" ry="3.37" fill="#ba9cae"/><ellipse rx="1.77" ry="1.77" fill="#d6c2bc"/></g>
<g transform="translate(182 272) rotate(0)"><ellipse rx="6.955" ry="6.955" fill="#9a789e"/><ellipse rx="5.91" ry="5.91" fill="#a4829f"/><ellipse rx="2.92" ry="2.92" fill="#ba9cae"/><ellipse rx="1.53" ry="1.53" fill="#d6c2bc"/></g>
<g transform="translate(182 287.8) rotate(0)"><ellipse rx="6.955" ry="6.955" fill="#9a789e"/><ellipse rx="5.91" ry="5.91" fill="#a4829f"/><ellipse rx="2.92" ry="2.92" fill="#ba9cae"/><ellipse rx="1.53" ry="1.53" fill="#d6c2bc"/></g>
<g transform="translate(120.6 283) rotate(0)"><ellipse rx="6.955" ry="6.955" fill="#9a789e"/><ellipse rx="5.91" ry="5.91" fill="#a4829f"/><ellipse rx="2.92" ry="2.92" fill="#ba9cae"/><ellipse rx="1.53" ry="1.53" fill="#d6c2bc"/></g>
<g transform="translate(138.8 287) rotate(0)"><ellipse rx="7.49" ry="7.49" fill="#9a789e"/><ellipse rx="6.37" ry="6.37" fill="#a4829f"/><ellipse rx="3.15" ry="3.15" fill="#ba9cae"/><ellipse rx="1.65" ry="1.65" fill="#d6c2bc"/></g>
<g transform="translate(153.7 291) rotate(0)"><ellipse rx="6.955" ry="6.955" fill="#9a789e"/><ellipse rx="5.91" ry="5.91" fill="#a4829f"/><ellipse rx="2.92" ry="2.92" fill="#ba9cae"/><ellipse rx="1.53" ry="1.53" fill="#d6c2bc"/></g>
<g transform="translate(112.7 292.6) rotate(0)"><ellipse rx="5.885000000000001" ry="5.885000000000001" fill="#9a789e"/><ellipse rx="5.00" ry="5.00" fill="#a4829f"/><ellipse rx="2.47" ry="2.47" fill="#ba9cae"/><ellipse rx="1.29" ry="1.29" fill="#d6c2bc"/></g>
<g transform="translate(110 277) rotate(0)"><ellipse rx="4.28" ry="4.28" fill="#9a789e"/><ellipse rx="3.64" ry="3.64" fill="#a4829f"/><ellipse rx="1.80" ry="1.80" fill="#ba9cae"/><ellipse rx="0.94" ry="0.94" fill="#d6c2bc"/></g>
<path d="M129.3 239.2 L138.0 237.7 L145.9 237.4 L155.3 243.7 L160.1 252.3 L166.7 252.8 L164.8 259.4 L161.9 267.3 L160.1 276.8 L153.7 282.3 L139.5 283.4 L133.2 278.7 L131.7 267.3 L130.9 251.5Z" fill="#5048aa" stroke="#2e2a88" stroke-width="0.9" stroke-linejoin="round"/>
<path d="M136.4 257.9 L145.9 254.7 L155.3 259.4 L158.5 270.5 L153.7 279.9 L141.1 281.5 L134.8 273.6Z" fill="#463c9e" stroke-linejoin="round"/>
<path d="M129.3 239.2 L138.0 237.7 L145.9 237.4 L155.3 243.7 L160.1 252.3 L166.7 252.8 L164.8 259.4 L161.9 267.3 L160.1 276.8 L153.7 282.3 L139.5 283.4 L133.2 278.7 L131.7 267.3 L130.9 251.5Z" fill="#fff" filter="url(#mottle)" stroke-linejoin="round"/><path d="M129.3 239.2 L138.0 237.7 L145.9 237.4 L155.3 243.7 L160.1 252.3 L166.7 252.8 L164.8 259.4 L161.9 267.3 L160.1 276.8 L153.7 282.3 L139.5 283.4 L133.2 278.7 L131.7 267.3 L130.9 251.5Z" fill="#fff" filter="url(#mottle2)" stroke-linejoin="round"/>
<path d="M136.4 257.9 L145.9 254.7 L155.3 259.4 L158.5 270.5 L153.7 279.9 L141.1 281.5 L134.8 273.6Z" fill="#fff" filter="url(#mottle)" stroke-linejoin="round"/><path d="M136.4 257.9 L145.9 254.7 L155.3 259.4 L158.5 270.5 L153.7 279.9 L141.1 281.5 L134.8 273.6Z" fill="#fff" filter="url(#mottle2)" stroke-linejoin="round"/>
</g>
<text x="150.6" y="233.5" font-size="7.6" text-anchor="middle" font-weight="bold" fill="#111">HP-8 d7</text>
<clipPath id="c3"><rect x="192.9" y="223.5" width="78.9" height="74.80000000000001"/></clipPath>
<g clip-path="url(#c3)">
<rect x="192.9" y="223.5" width="78.9" height="74.80000000000001" fill="#f6e5cf"/>
<g transform="translate(196.5 226.5) rotate(0)"><ellipse rx="5.885000000000001" ry="5.885000000000001" fill="#9a789e"/><ellipse rx="5.00" ry="5.00" fill="#a4829f"/><ellipse rx="2.47" ry="2.47" fill="#ba9cae"/><ellipse rx="1.29" ry="1.29" fill="#d6c2bc"/></g>
<g transform="translate(216 224) rotate(0)"><ellipse rx="6.42" ry="6.42" fill="#9a789e"/><ellipse rx="5.46" ry="5.46" fill="#a4829f"/><ellipse rx="2.70" ry="2.70" fill="#ba9cae"/><ellipse rx="1.41" ry="1.41" fill="#d6c2bc"/></g>
<g transform="translate(253.7 234.7) rotate(0)"><ellipse rx="6.955" ry="6.955" fill="#9a789e"/><ellipse rx="5.91" ry="5.91" fill="#a4829f"/><ellipse rx="2.92" ry="2.92" fill="#ba9cae"/><ellipse rx="1.53" ry="1.53" fill="#d6c2bc"/></g>
<g transform="translate(268.4 234.7) rotate(0)"><ellipse rx="5.885000000000001" ry="5.885000000000001" fill="#9a789e"/><ellipse rx="5.00" ry="5.00" fill="#a4829f"/><ellipse rx="2.47" ry="2.47" fill="#ba9cae"/><ellipse rx="1.29" ry="1.29" fill="#d6c2bc"/></g>
<g transform="translate(248.8 247) rotate(0)"><ellipse rx="6.955" ry="6.955" fill="#9a789e"/><ellipse rx="5.91" ry="5.91" fill="#a4829f"/><ellipse rx="2.92" ry="2.92" fill="#ba9cae"/><ellipse rx="1.53" ry="1.53" fill="#d6c2bc"/></g>
<g transform="translate(194.9 251) rotate(0)"><ellipse rx="5.885000000000001" ry="5.885000000000001" fill="#9a789e"/><ellipse rx="5.00" ry="5.00" fill="#a4829f"/><ellipse rx="2.47" ry="2.47" fill="#ba9cae"/><ellipse rx="1.29" ry="1.29" fill="#d6c2bc"/></g>
<g transform="translate(194.9 267.4) rotate(0)"><ellipse rx="5.885000000000001" ry="5.885000000000001" fill="#9a789e"/><ellipse rx="5.00" ry="5.00" fill="#a4829f"/><ellipse rx="2.47" ry="2.47" fill="#ba9cae"/><ellipse rx="1.29" ry="1.29" fill="#d6c2bc"/></g>
<g transform="translate(208 270.7) rotate(0)"><ellipse rx="7.49" ry="7.49" fill="#9a789e"/><ellipse rx="6.37" ry="6.37" fill="#a4829f"/><ellipse rx="3.15" ry="3.15" fill="#ba9cae"/><ellipse rx="1.65" ry="1.65" fill="#d6c2bc"/></g>
<g transform="translate(212.9 277.2) rotate(0)"><ellipse rx="5.885000000000001" ry="5.885000000000001" fill="#9a789e"/><ellipse rx="5.00" ry="5.00" fill="#a4829f"/><ellipse rx="2.47" ry="2.47" fill="#ba9cae"/><ellipse rx="1.29" ry="1.29" fill="#d6c2bc"/></g>
<g transform="translate(208 287) rotate(0)"><ellipse rx="6.955" ry="6.955" fill="#9a789e"/><ellipse rx="5.91" ry="5.91" fill="#a4829f"/><ellipse rx="2.92" ry="2.92" fill="#ba9cae"/><ellipse rx="1.53" ry="1.53" fill="#d6c2bc"/></g>
<g transform="translate(224.3 288.6) rotate(0)"><ellipse rx="6.955" ry="6.955" fill="#9a789e"/><ellipse rx="5.91" ry="5.91" fill="#a4829f"/><ellipse rx="2.92" ry="2.92" fill="#ba9cae"/><ellipse rx="1.53" ry="1.53" fill="#d6c2bc"/></g>
<g transform="translate(242.3 290.3) rotate(0)"><ellipse rx="6.955" ry="6.955" fill="#9a789e"/><ellipse rx="5.91" ry="5.91" fill="#a4829f"/><ellipse rx="2.92" ry="2.92" fill="#ba9cae"/><ellipse rx="1.53" ry="1.53" fill="#d6c2bc"/></g>
<g transform="translate(263.5 278.8) rotate(0)"><ellipse rx="7.49" ry="7.49" fill="#9a789e"/><ellipse rx="6.37" ry="6.37" fill="#a4829f"/><ellipse rx="3.15" ry="3.15" fill="#ba9cae"/><ellipse rx="1.65" ry="1.65" fill="#d6c2bc"/></g>
<g transform="translate(270 256) rotate(0)"><ellipse rx="4.815" ry="4.815" fill="#9a789e"/><ellipse rx="4.09" ry="4.09" fill="#a4829f"/><ellipse rx="2.02" ry="2.02" fill="#ba9cae"/><ellipse rx="1.06" ry="1.06" fill="#d6c2bc"/></g>
<g transform="translate(196 295) rotate(0)"><ellipse rx="4.28" ry="4.28" fill="#9a789e"/><ellipse rx="3.64" ry="3.64" fill="#a4829f"/><ellipse rx="1.80" ry="1.80" fill="#ba9cae"/><ellipse rx="0.94" ry="0.94" fill="#d6c2bc"/></g>
<path d="M214.5 264.1 L221.0 249.4 L230.8 240.4 L239.0 240.9 L244.2 247.8 L246.4 259.2 L249.2 266.1 L241.0 272.6 L239.0 280.8 L233.3 285.7 L227.6 284.1 L225.9 274.2 L217.8 269.3Z" fill="#a298ce" stroke="#3c3494" stroke-width="1.0" stroke-linejoin="round"/>
<ellipse cx="233.9" cy="258.8" rx="12.7" ry="11.6" fill="#56448f" transform="rotate(15 233.9 258.8)"/>
<ellipse cx="233.9" cy="258.8" rx="12.7" ry="11.6" fill="#fff" filter="url(#mottle)" transform="rotate(15 233.9 258.8)"/><ellipse cx="233.9" cy="258.8" rx="12.7" ry="11.6" fill="#fff" filter="url(#mottle2)" transform="rotate(15 233.9 258.8)"/>
</g>
<text x="225.2" y="233.5" font-size="7.6" text-anchor="middle" font-weight="bold" fill="#111">HP-101 d5</text>
<clipPath id="c4"><rect x="276.5" y="223.5" width="74.69999999999999" height="74.80000000000001"/></clipPath>
<g clip-path="url(#c4)">
<rect x="276.5" y="223.5" width="74.69999999999999" height="74.80000000000001" fill="#f6e5cf"/>
<g transform="translate(280.9 226.3) rotate(0)"><ellipse rx="5.885000000000001" ry="5.885000000000001" fill="#a47c9e"/><ellipse rx="5.00" ry="5.00" fill="#ae88a4"/><ellipse rx="2.47" ry="2.47" fill="#c2a2b4"/><ellipse rx="1.29" ry="1.29" fill="#dccac4"/></g>
<g transform="translate(297.4 244.4) rotate(0)"><ellipse rx="8.56" ry="8.56" fill="#a47c9e"/><ellipse rx="7.28" ry="7.28" fill="#ae88a4"/><ellipse rx="3.60" ry="3.60" fill="#c2a2b4"/><ellipse rx="1.88" ry="1.88" fill="#dccac4"/></g>
<g transform="translate(312.4 237.4) rotate(0)"><ellipse rx="6.42" ry="6.42" fill="#a47c9e"/><ellipse rx="5.46" ry="5.46" fill="#ae88a4"/><ellipse rx="2.70" ry="2.70" fill="#c2a2b4"/><ellipse rx="1.41" ry="1.41" fill="#dccac4"/></g>
<g transform="translate(332.1 239.7) rotate(0)"><ellipse rx="6.7410000000000005" ry="6.7410000000000005" fill="#a47c9e"/><ellipse rx="5.73" ry="5.73" fill="#ae88a4"/><ellipse rx="2.83" ry="2.83" fill="#c2a2b4"/><ellipse rx="1.48" ry="1.48" fill="#dccac4"/></g>
<g transform="translate(336.1 251.5) rotate(0)"><ellipse rx="5.885000000000001" ry="5.885000000000001" fill="#a47c9e"/><ellipse rx="5.00" ry="5.00" fill="#ae88a4"/><ellipse rx="2.47" ry="2.47" fill="#c2a2b4"/><ellipse rx="1.29" ry="1.29" fill="#dccac4"/></g>
<g transform="translate(347.1 254.7) rotate(0)"><ellipse rx="5.885000000000001" ry="5.885000000000001" fill="#a47c9e"/><ellipse rx="5.00" ry="5.00" fill="#ae88a4"/><ellipse rx="2.47" ry="2.47" fill="#c2a2b4"/><ellipse rx="1.29" ry="1.29" fill="#dccac4"/></g>
<g transform="translate(337.7 266.5) rotate(0)"><ellipse rx="6.955" ry="6.955" fill="#a47c9e"/><ellipse rx="5.91" ry="5.91" fill="#ae88a4"/><ellipse rx="2.92" ry="2.92" fill="#c2a2b4"/><ellipse rx="1.53" ry="1.53" fill="#dccac4"/></g>
<g transform="translate(350 236) rotate(0)"><ellipse rx="4.815" ry="4.815" fill="#a47c9e"/><ellipse rx="4.09" ry="4.09" fill="#ae88a4"/><ellipse rx="2.02" ry="2.02" fill="#c2a2b4"/><ellipse rx="1.06" ry="1.06" fill="#dccac4"/></g>
<g transform="translate(279.3 280) rotate(0)"><ellipse rx="5.885000000000001" ry="5.885000000000001" fill="#a47c9e"/><ellipse rx="5.00" ry="5.00" fill="#ae88a4"/><ellipse rx="2.47" ry="2.47" fill="#c2a2b4"/><ellipse rx="1.29" ry="1.29" fill="#dccac4"/></g>
<g transform="translate(294.3 286.2) rotate(0)"><ellipse rx="6.42" ry="6.42" fill="#a47c9e"/><ellipse rx="5.46" ry="5.46" fill="#ae88a4"/><ellipse rx="2.70" ry="2.70" fill="#c2a2b4"/><ellipse rx="1.41" ry="1.41" fill="#dccac4"/></g>
<g transform="translate(308.5 293.3) rotate(0)"><ellipse rx="7.49" ry="7.49" fill="#a47c9e"/><ellipse rx="6.37" ry="6.37" fill="#ae88a4"/><ellipse rx="3.15" ry="3.15" fill="#c2a2b4"/><ellipse rx="1.65" ry="1.65" fill="#dccac4"/></g>
<g transform="translate(326 298) rotate(0)"><ellipse rx="5.3500000000000005" ry="5.3500000000000005" fill="#a47c9e"/><ellipse rx="4.55" ry="4.55" fill="#ae88a4"/><ellipse rx="2.25" ry="2.25" fill="#c2a2b4"/><ellipse rx="1.18" ry="1.18" fill="#dccac4"/></g>
<circle cx="314.6" cy="261.5" r="17.4" fill="#c2bade"/>
<circle cx="314.6" cy="261.5" r="17.4" fill="none" stroke="#6a60b0" stroke-width="0.8"/>
<ellipse cx="321" cy="258.4" rx="10.8" ry="12.6" fill="#54448f" stroke="#302680" stroke-width="0.9" transform="rotate(-10 321 258.4)"/>
<circle cx="305" cy="270" r="1" fill="#3c3494"/><circle cx="309" cy="273" r="0.8" fill="#3c3494"/><circle cx="302" cy="266" r="0.8" fill="#3c3494"/>
<ellipse cx="321" cy="258.4" rx="10.8" ry="12.6" fill="#fff" filter="url(#mottle)" transform="rotate(-10 321 258.4)"/><ellipse cx="321" cy="258.4" rx="10.8" ry="12.6" fill="#fff" filter="url(#mottle2)" transform="rotate(-10 321 258.4)"/>
</g>
<text x="305.2" y="233.5" font-size="7.6" text-anchor="middle" font-weight="bold" fill="#111">HP-119 d8</text>
<clipPath id="c5"><rect x="356.2" y="223.5" width="74.60000000000002" height="74.80000000000001"/></clipPath>
<g clip-path="url(#c5)">
<rect x="356.2" y="223.5" width="74.60000000000002" height="74.80000000000001" fill="#f6e5cf"/>
<g transform="translate(360.1 228.7) rotate(0)"><ellipse rx="7.49" ry="7.49" fill="#a47c9e"/><ellipse rx="6.37" ry="6.37" fill="#ae88a4"/><ellipse rx="3.15" ry="3.15" fill="#c2a2b4"/><ellipse rx="1.65" ry="1.65" fill="#dccac4"/></g>
<g transform="translate(381.4 225.3) rotate(0)"><ellipse rx="6.955" ry="6.955" fill="#a47c9e"/><ellipse rx="5.91" ry="5.91" fill="#ae88a4"/><ellipse rx="2.92" ry="2.92" fill="#c2a2b4"/><ellipse rx="1.53" ry="1.53" fill="#dccac4"/></g>
<g transform="translate(403.5 237.4) rotate(0)"><ellipse rx="8.025" ry="8.025" fill="#a47c9e"/><ellipse rx="6.82" ry="6.82" fill="#ae88a4"/><ellipse rx="3.37" ry="3.37" fill="#c2a2b4"/><ellipse rx="1.77" ry="1.77" fill="#dccac4"/></g>
<g transform="translate(422.4 243.7) rotate(0)"><ellipse rx="8.025" ry="8.56" fill="#a47c9e"/><ellipse rx="6.82" ry="7.28" fill="#ae88a4"/><ellipse rx="3.37" ry="3.60" fill="#c2a2b4"/><ellipse rx="1.77" ry="1.88" fill="#dccac4"/></g>
<g transform="translate(411.4 254.7) rotate(0)"><ellipse rx="6.955" ry="8.56" fill="#a47c9e"/><ellipse rx="5.91" ry="7.28" fill="#ae88a4"/><ellipse rx="2.92" ry="3.60" fill="#c2a2b4"/><ellipse rx="1.53" ry="1.88" fill="#dccac4"/></g>
<g transform="translate(427.1 261) rotate(0)"><ellipse rx="5.885000000000001" ry="5.885000000000001" fill="#a47c9e"/><ellipse rx="5.00" ry="5.00" fill="#ae88a4"/><ellipse rx="2.47" ry="2.47" fill="#c2a2b4"/><ellipse rx="1.29" ry="1.29" fill="#dccac4"/></g>
<g transform="translate(359.1 262.6) rotate(0)"><ellipse rx="7.49" ry="8.56" fill="#a47c9e"/><ellipse rx="6.37" ry="7.28" fill="#ae88a4"/><ellipse rx="3.15" ry="3.60" fill="#c2a2b4"/><ellipse rx="1.65" ry="1.88" fill="#dccac4"/></g>
<g transform="translate(391.6 279.1) rotate(0)"><ellipse rx="9.309" ry="6.955" fill="#a47c9e"/><ellipse rx="7.91" ry="5.91" fill="#ae88a4"/><ellipse rx="3.91" ry="2.92" fill="#c2a2b4"/><ellipse rx="2.05" ry="1.53" fill="#dccac4"/></g>
<g transform="translate(416.9 272) rotate(0)"><ellipse rx="8.025" ry="8.025" fill="#a47c9e"/><ellipse rx="6.82" ry="6.82" fill="#ae88a4"/><ellipse rx="3.37" ry="3.37" fill="#c2a2b4"/><ellipse rx="1.77" ry="1.77" fill="#dccac4"/></g>
<g transform="translate(429 283) rotate(0)"><ellipse rx="5.3500000000000005" ry="5.3500000000000005" fill="#a47c9e"/><ellipse rx="4.55" ry="4.55" fill="#ae88a4"/><ellipse rx="2.25" ry="2.25" fill="#c2a2b4"/><ellipse rx="1.18" ry="1.18" fill="#dccac4"/></g>
<g transform="translate(362.5 283) rotate(0)"><ellipse rx="7.49" ry="7.49" fill="#a47c9e"/><ellipse rx="6.37" ry="6.37" fill="#ae88a4"/><ellipse rx="3.15" ry="3.15" fill="#c2a2b4"/><ellipse rx="1.65" ry="1.65" fill="#dccac4"/></g>
<g transform="translate(373.5 289.4) rotate(0)"><ellipse rx="7.49" ry="7.49" fill="#a47c9e"/><ellipse rx="6.37" ry="6.37" fill="#ae88a4"/><ellipse rx="3.15" ry="3.15" fill="#c2a2b4"/><ellipse rx="1.65" ry="1.65" fill="#dccac4"/></g>
<g transform="translate(389.3 293.3) rotate(0)"><ellipse rx="6.955" ry="6.955" fill="#a47c9e"/><ellipse rx="5.91" ry="5.91" fill="#ae88a4"/><ellipse rx="2.92" ry="2.92" fill="#c2a2b4"/><ellipse rx="1.53" ry="1.53" fill="#dccac4"/></g>
<g transform="translate(403.5 284.7) rotate(0)"><ellipse rx="8.56" ry="6.42" fill="#a47c9e"/><ellipse rx="7.28" ry="5.46" fill="#ae88a4"/><ellipse rx="3.60" ry="2.70" fill="#c2a2b4"/><ellipse rx="1.88" ry="1.41" fill="#dccac4"/></g>
<g transform="translate(419.2 292.6) rotate(0)"><ellipse rx="7.49" ry="7.49" fill="#a47c9e"/><ellipse rx="6.37" ry="6.37" fill="#ae88a4"/><ellipse rx="3.15" ry="3.15" fill="#c2a2b4"/><ellipse rx="1.65" ry="1.65" fill="#dccac4"/></g>
<ellipse cx="393.5" cy="261" rx="13.5" ry="14" fill="#e4dae4"/>
<circle cx="384.0" cy="263.9" r="0.82" fill="#4a3a9a"/><circle cx="384.2" cy="263.0" r="0.68" fill="#4a3a9a"/><circle cx="397.3" cy="269.8" r="0.70" fill="#4a3a9a"/><circle cx="395.3" cy="254.6" r="0.57" fill="#4a3a9a"/><circle cx="403.3" cy="267.3" r="0.73" fill="#4a3a9a"/><circle cx="405.9" cy="264.3" r="0.84" fill="#4a3a9a"/><circle cx="387.6" cy="252.5" r="0.51" fill="#4a3a9a"/><circle cx="403.2" cy="261.9" r="0.47" fill="#4a3a9a"/><circle cx="396.3" cy="268.2" r="0.46" fill="#4a3a9a"/><circle cx="384.6" cy="263.0" r="0.79" fill="#4a3a9a"/><circle cx="383.1" cy="259.7" r="0.65" fill="#4a3a9a"/><circle cx="388.7" cy="253.2" r="0.56" fill="#4a3a9a"/><circle cx="406.5" cy="260.8" r="0.79" fill="#4a3a9a"/><circle cx="391.3" cy="253.1" r="0.54" fill="#4a3a9a"/><circle cx="391.9" cy="267.3" r="0.76" fill="#4a3a9a"/><circle cx="383.8" cy="268.0" r="0.60" fill="#4a3a9a"/><circle cx="401.0" cy="261.0" r="0.81" fill="#4a3a9a"/><circle cx="380.9" cy="263.4" r="0.61" fill="#4a3a9a"/><circle cx="402.8" cy="265.6" r="0.76" fill="#4a3a9a"/><circle cx="392.7" cy="267.6" r="0.58" fill="#4a3a9a"/><circle cx="404.5" cy="258.5" r="0.50" fill="#4a3a9a"/><circle cx="393.7" cy="267.7" r="0.47" fill="#4a3a9a"/><circle cx="395.6" cy="254.1" r="0.67" fill="#4a3a9a"/><circle cx="386.6" cy="263.4" r="0.74" fill="#4a3a9a"/><circle cx="400.6" cy="268.7" r="0.50" fill="#4a3a9a"/>
<ellipse cx="396.4" cy="257.9" rx="9.6" ry="10.4" fill="#54448f" stroke="#302680" stroke-width="0.9"/>
<ellipse cx="396.4" cy="257.9" rx="9.6" ry="10.4" fill="#fff" filter="url(#mottle)"/><ellipse cx="396.4" cy="257.9" rx="9.6" ry="10.4" fill="#fff" filter="url(#mottle2)"/>
</g>
<text x="386.9" y="233.5" font-size="7.6" text-anchor="middle" font-weight="bold" fill="#111">HP-149 d14</text>
<clipPath id="c6"><rect x="435.4" y="223.5" width="74.60000000000002" height="74.80000000000001"/></clipPath>
<g clip-path="url(#c6)">
<rect x="435.4" y="223.5" width="74.60000000000002" height="74.80000000000001" fill="#f6e5cf"/>
<g transform="translate(437.7 229.5) rotate(0)"><ellipse rx="6.42" ry="6.42" fill="#a47c9e"/><ellipse rx="5.46" ry="5.46" fill="#ae88a4"/><ellipse rx="2.70" ry="2.70" fill="#c2a2b4"/><ellipse rx="1.41" ry="1.41" fill="#dccac4"/></g>
<g transform="translate(444 240.5) rotate(0)"><ellipse rx="8.56" ry="8.56" fill="#a47c9e"/><ellipse rx="7.28" ry="7.28" fill="#ae88a4"/><ellipse rx="3.60" ry="3.60" fill="#c2a2b4"/><ellipse rx="1.88" ry="1.88" fill="#dccac4"/></g>
<g transform="translate(461.4 231) rotate(0)"><ellipse rx="7.49" ry="7.49" fill="#a47c9e"/><ellipse rx="6.37" ry="6.37" fill="#ae88a4"/><ellipse rx="3.15" ry="3.15" fill="#c2a2b4"/><ellipse rx="1.65" ry="1.65" fill="#dccac4"/></g>
<g transform="translate(477.2 242) rotate(0)"><ellipse rx="7.49" ry="7.49" fill="#a47c9e"/><ellipse rx="6.37" ry="6.37" fill="#ae88a4"/><ellipse rx="3.15" ry="3.15" fill="#c2a2b4"/><ellipse rx="1.65" ry="1.65" fill="#dccac4"/></g>
<g transform="translate(485.8 245.2) rotate(0)"><ellipse rx="6.955" ry="6.955" fill="#a47c9e"/><ellipse rx="5.91" ry="5.91" fill="#ae88a4"/><ellipse rx="2.92" ry="2.92" fill="#c2a2b4"/><ellipse rx="1.53" ry="1.53" fill="#dccac4"/></g>
<g transform="translate(502.4 242.9) rotate(0)"><ellipse rx="7.49" ry="7.49" fill="#a47c9e"/><ellipse rx="6.37" ry="6.37" fill="#ae88a4"/><ellipse rx="3.15" ry="3.15" fill="#c2a2b4"/><ellipse rx="1.65" ry="1.65" fill="#dccac4"/></g>
<g transform="translate(499.2 228.7) rotate(0)"><ellipse rx="6.42" ry="6.42" fill="#a47c9e"/><ellipse rx="5.46" ry="5.46" fill="#ae88a4"/><ellipse rx="2.70" ry="2.70" fill="#c2a2b4"/><ellipse rx="1.41" ry="1.41" fill="#dccac4"/></g>
<g transform="translate(502.4 257.9) rotate(0)"><ellipse rx="7.49" ry="7.49" fill="#a47c9e"/><ellipse rx="6.37" ry="6.37" fill="#ae88a4"/><ellipse rx="3.15" ry="3.15" fill="#c2a2b4"/><ellipse rx="1.65" ry="1.65" fill="#dccac4"/></g>
<g transform="translate(450.4 275.2) rotate(0)"><ellipse rx="7.49" ry="7.49" fill="#a47c9e"/><ellipse rx="6.37" ry="6.37" fill="#ae88a4"/><ellipse rx="3.15" ry="3.15" fill="#c2a2b4"/><ellipse rx="1.65" ry="1.65" fill="#dccac4"/></g>
<g transform="translate(437 278.4) rotate(0)"><ellipse rx="5.885000000000001" ry="5.885000000000001" fill="#a47c9e"/><ellipse rx="5.00" ry="5.00" fill="#ae88a4"/><ellipse rx="2.47" ry="2.47" fill="#c2a2b4"/><ellipse rx="1.29" ry="1.29" fill="#dccac4"/></g>
<g transform="translate(489 276.8) rotate(0)"><ellipse rx="7.49" ry="7.49" fill="#a47c9e"/><ellipse rx="6.37" ry="6.37" fill="#ae88a4"/><ellipse rx="3.15" ry="3.15" fill="#c2a2b4"/><ellipse rx="1.65" ry="1.65" fill="#dccac4"/></g>
<g transform="translate(506.3 276.8) rotate(0)"><ellipse rx="5.3500000000000005" ry="5.3500000000000005" fill="#a47c9e"/><ellipse rx="4.55" ry="4.55" fill="#ae88a4"/><ellipse rx="2.25" ry="2.25" fill="#c2a2b4"/><ellipse rx="1.18" ry="1.18" fill="#dccac4"/></g>
<g transform="translate(472.4 287.8) rotate(0)"><ellipse rx="7.49" ry="7.49" fill="#a47c9e"/><ellipse rx="6.37" ry="6.37" fill="#ae88a4"/><ellipse rx="3.15" ry="3.15" fill="#c2a2b4"/><ellipse rx="1.65" ry="1.65" fill="#dccac4"/></g>
<g transform="translate(445 296) rotate(0)"><ellipse rx="5.3500000000000005" ry="5.3500000000000005" fill="#a47c9e"/><ellipse rx="4.55" ry="4.55" fill="#ae88a4"/><ellipse rx="2.25" ry="2.25" fill="#c2a2b4"/><ellipse rx="1.18" ry="1.18" fill="#dccac4"/></g>
<g transform="translate(500 295) rotate(0)"><ellipse rx="5.3500000000000005" ry="5.3500000000000005" fill="#a47c9e"/><ellipse rx="4.55" ry="4.55" fill="#ae88a4"/><ellipse rx="2.25" ry="2.25" fill="#c2a2b4"/><ellipse rx="1.18" ry="1.18" fill="#dccac4"/></g>
<path d="M463.8 242.8 L466 244 L468.6 243.6 L469 246.6 L468.4 249.6 L465.6 251 L462.4 250.6 L460.6 248 L461 245Z" fill="#a07a9c"/>
<path d="M456.9 267.1 L463 256.2 L469.9 252.4 L476 251.1 L481.1 251.1 L486.3 254.5 L485.5 260.6 L489.8 268.4 L486.3 271.8 L484.6 277 L477.7 279.6 L472.5 279.6 L467.3 282.6 L466.4 278.7 L461.2 273.5Z" fill="#aaa2d2" stroke="#4a40a0" stroke-width="0.8" stroke-linejoin="round"/>
<path d="M458.7 267.5 L463.8 263.6 L470.8 263.2 L477.7 260.6 L483.7 261.4 L486.3 266.6 L484.6 273.5 L479.4 278.7 L472.5 279.2 L465.6 276.1 L460.4 271.8Z" fill="#54448f" stroke="#2e2680" stroke-width="0.9" stroke-linejoin="round"/>
<path d="M458.7 267.5 L463.8 263.6 L470.8 263.2 L477.7 260.6 L483.7 261.4 L486.3 266.6 L484.6 273.5 L479.4 278.7 L472.5 279.2 L465.6 276.1 L460.4 271.8Z" fill="#fff" filter="url(#mottle)" stroke-linejoin="round"/><path d="M458.7 267.5 L463.8 263.6 L470.8 263.2 L477.7 260.6 L483.7 261.4 L486.3 266.6 L484.6 273.5 L479.4 278.7 L472.5 279.2 L465.6 276.1 L460.4 271.8Z" fill="#fff" filter="url(#mottle2)" stroke-linejoin="round"/>
</g>
<text x="470.8" y="233.5" font-size="7.6" text-anchor="middle" font-weight="bold" fill="#111">HP-185 d23</text>
<text x="9.0" y="322.8" font-size="14.4" font-weight="bold" fill="#000" stroke="#000" stroke-width="0.25">D</text>
<text x="272.0" y="322.4" font-size="14.4" font-weight="bold" fill="#000" stroke="#000" stroke-width="0.25">E</text>
<line x1="63.5" y1="331.9" x2="63.5" y2="458.4" stroke="#000" stroke-width="1.2"/>
<line x1="62.9" y1="457.8" x2="139.3" y2="457.8" stroke="#000" stroke-width="1.3"/>
<line x1="59.9" y1="457.8" x2="63.5" y2="457.8" stroke="#000" stroke-width="1.1"/>
<text x="56.2" y="461.201" font-size="9.5" text-anchor="end" textLength="5.9" lengthAdjust="spacingAndGlyphs" fill="#000">0</text>
<line x1="59.9" y1="446.18" x2="63.5" y2="446.18" stroke="#000" stroke-width="1.1"/>
<text x="56.2" y="449.581" font-size="9.5" text-anchor="end" textLength="23.5" lengthAdjust="spacingAndGlyphs" fill="#000">1000</text>
<line x1="59.9" y1="434.56" x2="63.5" y2="434.56" stroke="#000" stroke-width="1.1"/>
<text x="56.2" y="437.961" font-size="9.5" text-anchor="end" textLength="23.5" lengthAdjust="spacingAndGlyphs" fill="#000">2000</text>
<line x1="59.9" y1="422.94" x2="63.5" y2="422.94" stroke="#000" stroke-width="1.1"/>
<text x="56.2" y="426.341" font-size="9.5" text-anchor="end" textLength="23.5" lengthAdjust="spacingAndGlyphs" fill="#000">3000</text>
<text x="56.2" y="414.301" font-size="9.5" text-anchor="end" textLength="23.5" lengthAdjust="spacingAndGlyphs" fill="#000">4000</text>
<line x1="59.9" y1="402.3" x2="63.5" y2="402.3" stroke="#000" stroke-width="1.1"/>
<text x="56.2" y="405.701" font-size="9.5" text-anchor="end" textLength="23.5" lengthAdjust="spacingAndGlyphs" fill="#000">6000</text>
<line x1="59.9" y1="390.7" x2="63.5" y2="390.7" stroke="#000" stroke-width="1.1"/>
<text x="56.2" y="394.101" font-size="9.5" text-anchor="end" textLength="29.5" lengthAdjust="spacingAndGlyphs" fill="#000">10000</text>
<line x1="59.9" y1="379.1" x2="63.5" y2="379.1" stroke="#000" stroke-width="1.1"/>
<text x="56.2" y="382.50100000000003" font-size="9.5" text-anchor="end" textLength="29.5" lengthAdjust="spacingAndGlyphs" fill="#000">14000</text>
<line x1="59.9" y1="367.5" x2="63.5" y2="367.5" stroke="#000" stroke-width="1.1"/>
<text x="56.2" y="370.901" font-size="9.5" text-anchor="end" textLength="29.5" lengthAdjust="spacingAndGlyphs" fill="#000">18000</text>
<text x="56.2" y="362.801" font-size="9.5" text-anchor="end" textLength="29.5" lengthAdjust="spacingAndGlyphs" fill="#000">20000</text>
<line x1="59.9" y1="351.35999999999996" x2="63.5" y2="351.35999999999996" stroke="#000" stroke-width="1.1"/>
<text x="56.2" y="354.76099999999997" font-size="9.5" text-anchor="end" textLength="29.5" lengthAdjust="spacingAndGlyphs" fill="#000">40000</text>
<line x1="59.9" y1="343.32" x2="63.5" y2="343.32" stroke="#000" stroke-width="1.1"/>
<text x="56.2" y="346.721" font-size="9.5" text-anchor="end" textLength="29.5" lengthAdjust="spacingAndGlyphs" fill="#000">60000</text>
<line x1="59.9" y1="335.28" x2="63.5" y2="335.28" stroke="#000" stroke-width="1.1"/>
<text x="56.2" y="338.681" font-size="9.5" text-anchor="end" textLength="29.5" lengthAdjust="spacingAndGlyphs" fill="#000">80000</text>
<line x1="60.9" y1="363.0" x2="66.1" y2="358.2" stroke="#000" stroke-width="1.3"/>
<line x1="60.9" y1="413.0" x2="66.1" y2="408.2" stroke="#000" stroke-width="1.3"/>
<text x="20.200000000000003" y="395.15" font-size="11.8" text-anchor="middle" textLength="27.5" lengthAdjust="spacingAndGlyphs" transform="rotate(-90 20.200000000000003 395.15)" fill="#000" stroke="#000" stroke-width="0.38">ALC/&#956;l</text>
<path d="M78.75 422.30 L78.75 422.80 L78.75 423.31 L78.75 423.81 L78.75 424.31 L78.75 424.82 L78.74 425.32 L78.74 425.83 L78.74 426.33 L78.74 426.83 L78.73 427.34 L78.73 427.84 L78.72 428.34 L78.72 428.85 L78.72 429.35 L78.71 429.85 L78.71 430.36 L78.70 430.86 L78.70 431.37 L78.70 431.87 L78.70 432.37 L78.70 432.88 L78.70 433.38 L78.70 433.88 L78.70 434.39 L78.70 434.89 L78.70 435.39 L78.70 435.90 L78.70 436.40 L78.70 436.91 L78.70 437.41 L78.70 437.91 L78.70 438.42 L78.70 438.92 L78.70 439.42 L78.70 439.93 L78.70 440.43 L78.70 440.93 L78.70 441.44 L78.70 441.94 L78.70 442.45 L78.70 442.95 L78.70 443.45 L78.70 443.96 L78.70 444.46 L78.70 444.96 L78.70 445.47 L78.70 445.97 L78.71 446.47 L78.72 446.98 L78.73 447.48 L78.74 447.99 L78.75 448.49 L78.77 448.99 L78.78 449.50 L78.80 450.00 L78.85 450.50 L78.97 451.00 L79.13 451.50 L79.34 452.00 L79.56 452.50 L79.80 453.00 L80.06 453.50 L80.38 454.00 L80.75 454.50 L81.20 455.00 L82.02 455.70 L83.10 456.40 L85.10 457.30 L72.10 457.30 L74.10 456.40 L75.18 455.70 L76.00 455.00 L76.45 454.50 L76.82 454.00 L77.14 453.50 L77.40 453.00 L77.64 452.50 L77.86 452.00 L78.07 451.50 L78.23 451.00 L78.35 450.50 L78.40 450.00 L78.42 449.50 L78.43 448.99 L78.45 448.49 L78.46 447.99 L78.47 447.48 L78.48 446.98 L78.49 446.47 L78.50 445.97 L78.50 445.47 L78.50 444.96 L78.50 444.46 L78.50 443.96 L78.50 443.45 L78.50 442.95 L78.50 442.45 L78.50 441.94 L78.50 441.44 L78.50 440.93 L78.50 440.43 L78.50 439.93 L78.50 439.42 L78.50 438.92 L78.50 438.42 L78.50 437.91 L78.50 437.41 L78.50 436.91 L78.50 436.40 L78.50 435.90 L78.50 435.39 L78.50 434.89 L78.50 434.39 L78.50 433.88 L78.50 433.38 L78.50 432.88 L78.50 432.37 L78.50 431.87 L78.50 431.37 L78.50 430.86 L78.49 430.36 L78.49 429.85 L78.48 429.35 L78.48 428.85 L78.48 428.34 L78.47 427.84 L78.47 427.34 L78.46 426.83 L78.46 426.33 L78.46 425.83 L78.46 425.32 L78.45 424.82 L78.45 424.31 L78.45 423.81 L78.45 423.31 L78.45 422.80 L78.45 422.30Z" fill="none" stroke="#000" stroke-width="1.35" stroke-linejoin="round"/>
<path d="M101.50 339.20 L101.50 339.70 L101.50 340.20 L101.50 340.71 L101.50 341.21 L101.50 341.71 L101.50 342.21 L101.50 342.71 L101.50 343.21 L101.50 343.72 L101.50 344.22 L101.50 344.72 L101.50 345.22 L101.50 345.72 L101.50 346.22 L101.50 346.73 L101.50 347.23 L101.49 347.73 L101.49 348.23 L101.49 348.73 L101.49 349.23 L101.49 349.74 L101.49 350.24 L101.49 350.74 L101.49 351.24 L101.49 351.74 L101.48 352.25 L101.48 352.75 L101.48 353.25 L101.48 353.75 L101.48 354.25 L101.48 354.75 L101.47 355.26 L101.47 355.76 L101.47 356.26 L101.47 356.76 L101.47 357.26 L101.46 357.76 L101.46 358.27 L101.46 358.77 L101.46 359.27 L101.46 359.77 L101.45 360.27 L101.45 360.77 L101.45 361.28 L101.45 361.78 L101.45 362.28 L101.44 362.78 L101.44 363.28 L101.44 363.78 L101.44 364.29 L101.43 364.79 L101.43 365.29 L101.43 365.79 L101.43 366.29 L101.43 366.80 L101.42 367.30 L101.42 367.80 L101.42 368.30 L101.42 368.80 L101.41 369.30 L101.41 369.81 L101.41 370.31 L101.41 370.81 L101.41 371.31 L101.40 371.81 L101.40 372.31 L101.40 372.82 L101.40 373.32 L101.40 373.82 L101.40 374.32 L101.40 374.82 L101.40 375.32 L101.40 375.83 L101.40 376.33 L101.40 376.83 L101.40 377.33 L101.40 377.83 L101.40 378.34 L101.40 378.84 L101.40 379.34 L101.40 379.84 L101.40 380.34 L101.40 380.84 L101.40 381.35 L101.40 381.85 L101.40 382.35 L101.40 382.85 L101.40 383.35 L101.40 383.85 L101.40 384.36 L101.40 384.86 L101.40 385.36 L101.40 385.86 L101.40 386.36 L101.40 386.86 L101.40 387.37 L101.40 387.87 L101.40 388.37 L101.40 388.87 L101.40 389.37 L101.40 389.88 L101.40 390.38 L101.40 390.88 L101.40 391.38 L101.40 391.88 L101.40 392.38 L101.40 392.89 L101.40 393.39 L101.40 393.89 L101.40 394.39 L101.40 394.89 L101.40 395.39 L101.40 395.90 L101.40 396.40 L101.40 396.90 L101.40 397.40 L101.40 397.90 L101.40 398.40 L101.40 398.91 L101.40 399.41 L101.40 399.91 L101.40 400.41 L101.40 400.91 L101.40 401.42 L101.40 401.92 L101.40 402.42 L101.40 402.92 L101.40 403.42 L101.40 403.92 L101.40 404.43 L101.40 404.93 L101.40 405.43 L101.40 405.93 L101.40 406.43 L101.40 406.93 L101.40 407.44 L101.41 407.94 L101.41 408.44 L101.41 408.94 L101.42 409.44 L101.42 409.94 L101.43 410.45 L101.43 410.95 L101.44 411.45 L101.44 411.95 L101.45 412.45 L101.45 412.95 L101.46 413.46 L101.46 413.96 L101.47 414.46 L101.47 414.96 L101.48 415.46 L101.49 415.97 L101.49 416.47 L101.50 416.97 L101.51 417.47 L101.51 417.97 L101.52 418.47 L101.53 418.98 L101.54 419.48 L101.54 419.98 L101.55 420.48 L101.56 420.98 L101.57 421.48 L101.58 421.99 L101.58 422.49 L101.59 422.99 L101.60 423.49 L101.61 423.99 L101.62 424.49 L101.63 425.00 L101.64 425.50 L101.65 426.00 L101.90 426.55 L102.43 427.10 L102.99 427.65 L103.30 428.20 L103.27 428.76 L103.06 429.32 L102.79 429.88 L102.56 430.44 L102.50 431.00 L102.56 431.50 L102.64 432.00 L102.74 432.50 L102.85 433.00 L102.98 433.50 L103.12 434.00 L103.27 434.50 L103.42 435.00 L103.58 435.50 L103.74 436.00 L103.90 436.50 L104.05 437.00 L104.20 437.50 L104.35 438.02 L104.51 438.55 L104.68 439.07 L104.85 439.60 L105.03 440.12 L105.21 440.65 L105.40 441.18 L105.60 441.70 L105.83 442.26 L106.07 442.81 L106.33 443.37 L106.59 443.93 L106.85 444.49 L107.08 445.04 L107.30 445.60 L107.50 446.11 L107.72 446.63 L107.93 447.14 L108.12 447.66 L108.26 448.17 L108.32 448.69 L108.30 449.20 L108.16 449.70 L107.90 450.20 L107.55 450.70 L107.15 451.20 L106.72 451.70 L106.30 452.20 L105.80 452.76 L105.25 453.32 L104.67 453.88 L104.08 454.44 L103.50 455.00 L102.83 455.60 L102.17 456.20 L101.70 456.80 L100.90 456.80 L100.43 456.20 L99.77 455.60 L99.10 455.00 L98.52 454.44 L97.93 453.88 L97.35 453.32 L96.80 452.76 L96.30 452.20 L95.88 451.70 L95.45 451.20 L95.05 450.70 L94.70 450.20 L94.44 449.70 L94.30 449.20 L94.28 448.69 L94.34 448.17 L94.48 447.66 L94.67 447.14 L94.88 446.63 L95.10 446.11 L95.30 445.60 L95.52 445.04 L95.75 444.49 L96.01 443.93 L96.27 443.37 L96.53 442.81 L96.77 442.26 L97.00 441.70 L97.20 441.18 L97.39 440.65 L97.57 440.12 L97.75 439.60 L97.92 439.07 L98.09 438.55 L98.25 438.02 L98.40 437.50 L98.55 437.00 L98.70 436.50 L98.86 436.00 L99.02 435.50 L99.18 435.00 L99.33 434.50 L99.48 434.00 L99.62 433.50 L99.75 433.00 L99.86 432.50 L99.96 432.00 L100.04 431.50 L100.10 431.00 L100.04 430.44 L99.81 429.88 L99.54 429.32 L99.33 428.76 L99.30 428.20 L99.61 427.65 L100.17 427.10 L100.70 426.55 L100.95 426.00 L100.96 425.50 L100.97 425.00 L100.98 424.49 L100.99 423.99 L101.00 423.49 L101.01 422.99 L101.02 422.49 L101.02 421.99 L101.03 421.48 L101.04 420.98 L101.05 420.48 L101.06 419.98 L101.06 419.48 L101.07 418.98 L101.08 418.47 L101.09 417.97 L101.09 417.47 L101.10 416.97 L101.11 416.47 L101.11 415.97 L101.12 415.46 L101.13 414.96 L101.13 414.46 L101.14 413.96 L101.14 413.46 L101.15 412.95 L101.15 412.45 L101.16 411.95 L101.16 411.45 L101.17 410.95 L101.17 410.45 L101.18 409.94 L101.18 409.44 L101.19 408.94 L101.19 408.44 L101.19 407.94 L101.20 407.44 L101.20 406.93 L101.20 406.43 L101.20 405.93 L101.20 405.43 L101.20 404.93 L101.20 404.43 L101.20 403.92 L101.20 403.42 L101.20 402.92 L101.20 402.42 L101.20 401.92 L101.20 401.42 L101.20 400.91 L101.20 400.41 L101.20 399.91 L101.20 399.41 L101.20 398.91 L101.20 398.40 L101.20 397.90 L101.20 397.40 L101.20 396.90 L101.20 396.40 L101.20 395.90 L101.20 395.39 L101.20 394.89 L101.20 394.39 L101.20 393.89 L101.20 393.39 L101.20 392.89 L101.20 392.38 L101.20 391.88 L101.20 391.38 L101.20 390.88 L101.20 390.38 L101.20 389.88 L101.20 389.37 L101.20 388.87 L101.20 388.37 L101.20 387.87 L101.20 387.37 L101.20 386.86 L101.20 386.36 L101.20 385.86 L101.20 385.36 L101.20 384.86 L101.20 384.36 L101.20 383.85 L101.20 383.35 L101.20 382.85 L101.20 382.35 L101.20 381.85 L101.20 381.35 L101.20 380.84 L101.20 380.34 L101.20 379.84 L101.20 379.34 L101.20 378.84 L101.20 378.34 L101.20 377.83 L101.20 377.33 L101.20 376.83 L101.20 376.33 L101.20 375.83 L101.20 375.32 L101.20 374.82 L101.20 374.32 L101.20 373.82 L101.20 373.32 L101.20 372.82 L101.20 372.31 L101.20 371.81 L101.19 371.31 L101.19 370.81 L101.19 370.31 L101.19 369.81 L101.19 369.30 L101.18 368.80 L101.18 368.30 L101.18 367.80 L101.18 367.30 L101.17 366.80 L101.17 366.29 L101.17 365.79 L101.17 365.29 L101.17 364.79 L101.16 364.29 L101.16 363.78 L101.16 363.28 L101.16 362.78 L101.15 362.28 L101.15 361.78 L101.15 361.28 L101.15 360.77 L101.15 360.27 L101.14 359.77 L101.14 359.27 L101.14 358.77 L101.14 358.27 L101.14 357.76 L101.13 357.26 L101.13 356.76 L101.13 356.26 L101.13 355.76 L101.13 355.26 L101.12 354.75 L101.12 354.25 L101.12 353.75 L101.12 353.25 L101.12 352.75 L101.12 352.25 L101.11 351.74 L101.11 351.24 L101.11 350.74 L101.11 350.24 L101.11 349.74 L101.11 349.23 L101.11 348.73 L101.11 348.23 L101.11 347.73 L101.10 347.23 L101.10 346.73 L101.10 346.22 L101.10 345.72 L101.10 345.22 L101.10 344.72 L101.10 344.22 L101.10 343.72 L101.10 343.21 L101.10 342.71 L101.10 342.21 L101.10 341.71 L101.10 341.21 L101.10 340.71 L101.10 340.20 L101.10 339.70 L101.10 339.20Z" fill="none" stroke="#c6007e" stroke-width="1.45" stroke-linejoin="round"/>
<line x1="96.2" y1="449.3" x2="106.4" y2="449.3" stroke="#c6007e" stroke-width="0.9"/>
<line x1="99.2" y1="445.4" x2="103.4" y2="445.4" stroke="#c6007e" stroke-width="0.9" stroke-dasharray="1.6 1.2"/>
<rect x="99" y="359.6" width="5" height="1.8" fill="#fff"/>
<rect x="99" y="408.6" width="5" height="1.8" fill="#fff"/>
<path d="M124.55 423.20 L124.55 423.71 L124.55 424.23 L124.55 424.74 L124.55 425.25 L124.54 425.77 L124.54 426.28 L124.53 426.79 L124.53 427.30 L124.52 427.82 L124.52 428.33 L124.52 428.84 L124.52 429.36 L124.52 429.87 L124.52 430.38 L124.53 430.90 L124.53 431.41 L124.55 431.92 L124.56 432.43 L124.58 432.95 L124.60 433.46 L124.63 433.97 L124.66 434.49 L124.70 435.00 L124.93 435.50 L125.34 436.00 L125.60 436.50 L125.67 437.00 L125.72 437.50 L125.73 438.00 L125.72 438.50 L125.70 439.00 L125.65 439.50 L125.60 440.00 L125.49 440.53 L125.30 441.07 L125.09 441.60 L124.91 442.13 L124.79 442.67 L124.80 443.20 L124.98 443.76 L125.30 444.32 L125.71 444.88 L126.13 445.44 L126.50 446.00 L126.81 446.53 L127.11 447.07 L127.41 447.60 L127.71 448.13 L128.01 448.67 L128.30 449.20 L128.61 449.76 L128.93 450.32 L129.23 450.88 L129.53 451.44 L129.80 452.00 L130.10 452.60 L130.41 453.20 L130.64 453.80 L130.70 454.40 L130.55 454.93 L130.16 455.47 L129.50 456.00 L128.13 456.50 L126.80 457.00 L121.80 457.00 L120.47 456.50 L119.10 456.00 L118.44 455.47 L118.05 454.93 L117.90 454.40 L117.96 453.80 L118.19 453.20 L118.50 452.60 L118.80 452.00 L119.07 451.44 L119.37 450.88 L119.67 450.32 L119.99 449.76 L120.30 449.20 L120.59 448.67 L120.89 448.13 L121.19 447.60 L121.49 447.07 L121.79 446.53 L122.10 446.00 L122.47 445.44 L122.89 444.88 L123.30 444.32 L123.62 443.76 L123.80 443.20 L123.81 442.67 L123.69 442.13 L123.51 441.60 L123.30 441.07 L123.11 440.53 L123.00 440.00 L122.95 439.50 L122.90 439.00 L122.88 438.50 L122.87 438.00 L122.88 437.50 L122.93 437.00 L123.00 436.50 L123.26 436.00 L123.67 435.50 L123.90 435.00 L123.94 434.49 L123.97 433.97 L124.00 433.46 L124.02 432.95 L124.04 432.43 L124.05 431.92 L124.07 431.41 L124.07 430.90 L124.08 430.38 L124.08 429.87 L124.08 429.36 L124.08 428.84 L124.08 428.33 L124.08 427.82 L124.07 427.30 L124.07 426.79 L124.06 426.28 L124.06 425.77 L124.05 425.25 L124.05 424.74 L124.05 424.23 L124.05 423.71 L124.05 423.20Z" fill="none" stroke="#08807f" stroke-width="1.45" stroke-linejoin="round"/>
<line x1="121.3" y1="452.3" x2="127.3" y2="452.3" stroke="#08807f" stroke-width="1.0" stroke-dasharray="1.6 1.4"/>
<line x1="119.3" y1="454.6" x2="129.3" y2="454.6" stroke="#80c4c4" stroke-width="1.0"/>
<line x1="78.6" y1="457.8" x2="78.6" y2="461.8" stroke="#000" stroke-width="1.1"/>
<line x1="101.3" y1="457.8" x2="101.3" y2="461.8" stroke="#000" stroke-width="1.1"/>
<line x1="124.3" y1="457.8" x2="124.3" y2="461.8" stroke="#000" stroke-width="1.1"/>
<text x="87.9" y="346.0" font-size="8.8" text-anchor="middle" textLength="9.6" lengthAdjust="spacingAndGlyphs" fill="#000">***</text>
<text x="82.2" y="468.6" font-size="9.7" text-anchor="end" textLength="36.3" lengthAdjust="spacingAndGlyphs" transform="rotate(-45 82.2 468.6)" fill="#000">Baseline</text>
<text x="106.1" y="467.6" font-size="9.7" text-anchor="end" textLength="22.5" lengthAdjust="spacingAndGlyphs" transform="rotate(-45 106.1 467.6)" fill="#000">Peak</text>
<text x="127.2" y="467.6" font-size="9.7" text-anchor="end" textLength="33.6" lengthAdjust="spacingAndGlyphs" transform="rotate(-45 127.2 467.6)" fill="#000">1 month</text>
<line x1="326.3" y1="331.9" x2="326.3" y2="458.4" stroke="#000" stroke-width="1.2"/>
<line x1="325.7" y1="457.8" x2="504.6" y2="457.8" stroke="#000" stroke-width="1.3"/>
<line x1="322.7" y1="457.8" x2="326.3" y2="457.8" stroke="#000" stroke-width="1.1"/>
<text x="319.0" y="461.201" font-size="9.5" text-anchor="end" textLength="5.9" lengthAdjust="spacingAndGlyphs" fill="#000">0</text>
<line x1="322.7" y1="446.18" x2="326.3" y2="446.18" stroke="#000" stroke-width="1.1"/>
<text x="319.0" y="449.581" font-size="9.5" text-anchor="end" textLength="23.5" lengthAdjust="spacingAndGlyphs" fill="#000">1000</text>
<line x1="322.7" y1="434.56" x2="326.3" y2="434.56" stroke="#000" stroke-width="1.1"/>
<text x="319.0" y="437.961" font-size="9.5" text-anchor="end" textLength="23.5" lengthAdjust="spacingAndGlyphs" fill="#000">2000</text>
<line x1="322.7" y1="422.94" x2="326.3" y2="422.94" stroke="#000" stroke-width="1.1"/>
<text x="319.0" y="426.341" font-size="9.5" text-anchor="end" textLength="23.5" lengthAdjust="spacingAndGlyphs" fill="#000">3000</text>
<text x="319.0" y="414.301" font-size="9.5" text-anchor="end" textLength="23.5" lengthAdjust="spacingAndGlyphs" fill="#000">4000</text>
<line x1="322.7" y1="402.3" x2="326.3" y2="402.3" stroke="#000" stroke-width="1.1"/>
<text x="319.0" y="405.701" font-size="9.5" text-anchor="end" textLength="23.5" lengthAdjust="spacingAndGlyphs" fill="#000">6000</text>
<line x1="322.7" y1="390.7" x2="326.3" y2="390.7" stroke="#000" stroke-width="1.1"/>
<text x="319.0" y="394.101" font-size="9.5" text-anchor="end" textLength="29.5" lengthAdjust="spacingAndGlyphs" fill="#000">10000</text>
<line x1="322.7" y1="379.1" x2="326.3" y2="379.1" stroke="#000" stroke-width="1.1"/>
<text x="319.0" y="382.50100000000003" font-size="9.5" text-anchor="end" textLength="29.5" lengthAdjust="spacingAndGlyphs" fill="#000">14000</text>
<line x1="322.7" y1="367.5" x2="326.3" y2="367.5" stroke="#000" stroke-width="1.1"/>
<text x="319.0" y="370.901" font-size="9.5" text-anchor="end" textLength="29.5" lengthAdjust="spacingAndGlyphs" fill="#000">18000</text>
<text x="319.0" y="362.801" font-size="9.5" text-anchor="end" textLength="29.5" lengthAdjust="spacingAndGlyphs" fill="#000">20000</text>
<line x1="322.7" y1="351.35999999999996" x2="326.3" y2="351.35999999999996" stroke="#000" stroke-width="1.1"/>
<text x="319.0" y="354.76099999999997" font-size="9.5" text-anchor="end" textLength="29.5" lengthAdjust="spacingAndGlyphs" fill="#000">40000</text>
<line x1="322.7" y1="343.32" x2="326.3" y2="343.32" stroke="#000" stroke-width="1.1"/>
<text x="319.0" y="346.721" font-size="9.5" text-anchor="end" textLength="29.5" lengthAdjust="spacingAndGlyphs" fill="#000">60000</text>
<line x1="322.7" y1="335.28" x2="326.3" y2="335.28" stroke="#000" stroke-width="1.1"/>
<text x="319.0" y="338.681" font-size="9.5" text-anchor="end" textLength="29.5" lengthAdjust="spacingAndGlyphs" fill="#000">80000</text>
<line x1="323.7" y1="363.0" x2="328.90000000000003" y2="358.2" stroke="#000" stroke-width="1.3"/>
<line x1="323.7" y1="413.0" x2="328.90000000000003" y2="408.2" stroke="#000" stroke-width="1.3"/>
<text x="283.0" y="395.15" font-size="11.8" text-anchor="middle" textLength="27.5" lengthAdjust="spacingAndGlyphs" transform="rotate(-90 283.0 395.15)" fill="#000" stroke="#000" stroke-width="0.38">ALC/&#956;l</text>
<line x1="326.2" y1="457.8" x2="326.2" y2="461.40000000000003" stroke="#000" stroke-width="1.0"/>
<line x1="331.88" y1="457.8" x2="331.88" y2="459.7" stroke="#000" stroke-width="1.0"/>
<line x1="337.56" y1="457.8" x2="337.56" y2="459.7" stroke="#000" stroke-width="1.0"/>
<line x1="343.24" y1="457.8" x2="343.24" y2="459.7" stroke="#000" stroke-width="1.0"/>
<line x1="348.91999999999996" y1="457.8" x2="348.91999999999996" y2="459.7" stroke="#000" stroke-width="1.0"/>
<line x1="354.59999999999997" y1="457.8" x2="354.59999999999997" y2="459.7" stroke="#000" stroke-width="1.0"/>
<line x1="360.28" y1="457.8" x2="360.28" y2="459.7" stroke="#000" stroke-width="1.0"/>
<line x1="365.96" y1="457.8" x2="365.96" y2="459.7" stroke="#000" stroke-width="1.0"/>
<line x1="371.64" y1="457.8" x2="371.64" y2="459.7" stroke="#000" stroke-width="1.0"/>
<line x1="377.32" y1="457.8" x2="377.32" y2="459.7" stroke="#000" stroke-width="1.0"/>
<line x1="383.0" y1="457.8" x2="383.0" y2="461.40000000000003" stroke="#000" stroke-width="1.0"/>
<line x1="388.68" y1="457.8" x2="388.68" y2="459.7" stroke="#000" stroke-width="1.0"/>
<line x1="394.36" y1="457.8" x2="394.36" y2="459.7" stroke="#000" stroke-width="1.0"/>
<line x1="400.03999999999996" y1="457.8" x2="400.03999999999996" y2="459.7" stroke="#000" stroke-width="1.0"/>
<line x1="405.71999999999997" y1="457.8" x2="405.71999999999997" y2="459.7" stroke="#000" stroke-width="1.0"/>
<line x1="411.4" y1="457.8" x2="411.4" y2="459.7" stroke="#000" stroke-width="1.0"/>
<line x1="417.08" y1="457.8" x2="417.08" y2="459.7" stroke="#000" stroke-width="1.0"/>
<line x1="422.76" y1="457.8" x2="422.76" y2="459.7" stroke="#000" stroke-width="1.0"/>
<line x1="428.44" y1="457.8" x2="428.44" y2="459.7" stroke="#000" stroke-width="1.0"/>
<line x1="434.12" y1="457.8" x2="434.12" y2="459.7" stroke="#000" stroke-width="1.0"/>
<line x1="439.79999999999995" y1="457.8" x2="439.79999999999995" y2="461.40000000000003" stroke="#000" stroke-width="1.0"/>
<line x1="445.48" y1="457.8" x2="445.48" y2="459.7" stroke="#000" stroke-width="1.0"/>
<line x1="451.15999999999997" y1="457.8" x2="451.15999999999997" y2="459.7" stroke="#000" stroke-width="1.0"/>
<line x1="456.84" y1="457.8" x2="456.84" y2="459.7" stroke="#000" stroke-width="1.0"/>
<line x1="462.52" y1="457.8" x2="462.52" y2="459.7" stroke="#000" stroke-width="1.0"/>
<line x1="468.2" y1="457.8" x2="468.2" y2="459.7" stroke="#000" stroke-width="1.0"/>
<line x1="473.88" y1="457.8" x2="473.88" y2="459.7" stroke="#000" stroke-width="1.0"/>
<line x1="479.55999999999995" y1="457.8" x2="479.55999999999995" y2="459.7" stroke="#000" stroke-width="1.0"/>
<line x1="485.24" y1="457.8" x2="485.24" y2="459.7" stroke="#000" stroke-width="1.0"/>
<line x1="490.91999999999996" y1="457.8" x2="490.91999999999996" y2="459.7" stroke="#000" stroke-width="1.0"/>
<line x1="496.59999999999997" y1="457.8" x2="496.59999999999997" y2="461.40000000000003" stroke="#000" stroke-width="1.0"/>
<line x1="502.28" y1="457.8" x2="502.28" y2="459.7" stroke="#000" stroke-width="1.0"/>
<text x="326.2" y="473.8" font-size="9.5" text-anchor="middle" textLength="5.9" lengthAdjust="spacingAndGlyphs" fill="#000">0</text>
<text x="383.0" y="473.8" font-size="9.5" text-anchor="middle" textLength="11.6" lengthAdjust="spacingAndGlyphs" fill="#000">10</text>
<text x="439.79999999999995" y="473.8" font-size="9.5" text-anchor="middle" textLength="11.6" lengthAdjust="spacingAndGlyphs" fill="#000">20</text>
<text x="496.59999999999997" y="473.8" font-size="9.5" text-anchor="middle" textLength="11.6" lengthAdjust="spacingAndGlyphs" fill="#000">30</text>
<text x="416.2" y="490.8" font-size="11.8" text-anchor="middle" textLength="107" lengthAdjust="spacingAndGlyphs" fill="#000" stroke="#000" stroke-width="0.38">Days post CAR T cell infusion</text>
<rect x="397.68" y="337.48" width="5.04" height="5.04" fill="#000"/>
<circle cx="376.7" cy="373.3" r="2.66" fill="#000"/>
<path d="M383.1 377.14 L385.90 371.96 L380.30 371.96Z" fill="#000"/>
<path d="M394.6 383.56 L397.40 388.74 L391.80 388.74Z" fill="#000"/>
<path d="M383.1 394.44 L385.90 389.26 L380.30 389.26Z" fill="#000"/>
<path d="M371.5 401.74 L374.30 396.56 L368.70 396.56Z" fill="#000"/>
<path d="M369.26 398.56 L373.74 403.04 M373.74 398.56 L369.26 403.04" stroke="#000" stroke-width="1.1" fill="none"/>
<circle cx="377.2" cy="405.8" r="2.66" fill="#000"/>
<path d="M380.56 403.5 L385.04 403.5 M382.8 401.26 L382.8 405.74" stroke="#000" stroke-width="1.1" fill="none"/>
<path d="M380.56 408 L385.04 408 M382.8 405.76 L382.8 410.24" stroke="#000" stroke-width="1.1" fill="none"/>
<circle cx="388.8" cy="405.5" r="2.66" fill="#000"/>
<path d="M380.46 417.2 L384.94 417.2 M382.7 414.96 L382.7 419.44" stroke="#000" stroke-width="1.1" fill="none"/>
<path d="M389.2 415.96 L392.14 418.9 L389.2 421.84 L386.26 418.9Z" fill="#000"/>
<path d="M360.2 416.86 L363.00 422.04 L357.40 422.04Z" fill="#000"/>
<circle cx="360.2" cy="424.8" r="2.66" fill="#000"/>
<circle cx="360.2" cy="426.8" r="2.66" fill="#000"/>
<rect x="362.88" y="418.58" width="5.04" height="5.04" fill="#000"/>
<rect x="368.88" y="418.58" width="5.04" height="5.04" fill="#000"/>
<path d="M371.4 430.04 L374.20 424.86 L368.60 424.86Z" fill="#000"/>
<path d="M377.9 417.86 L380.70 423.04 L375.10 423.04Z" fill="#000"/>
<path d="M377.9 429.44 L380.70 424.26 L375.10 424.26Z" fill="#000"/>
<rect x="380.58" y="423.68" width="5.04" height="5.04" fill="#000"/>
<path d="M363.16 430.06 L367.64 434.54 M367.64 430.06 L363.16 434.54" stroke="#000" stroke-width="1.1" fill="none"/>
<rect x="362.88" y="433.78" width="5.04" height="5.04" fill="#000"/>
<rect x="362.88" y="438.68" width="5.04" height="5.04" fill="#000"/>
<path d="M365.4 442.56 L368.34 445.5 L365.4 448.44 L362.46 445.5Z" fill="#000"/>
<rect x="362.88" y="447.98" width="5.04" height="5.04" fill="#000"/>
<circle cx="365.4" cy="455.5" r="2.66" fill="#000"/>
<path d="M360.2 444.46 L363.00 449.64 L357.40 449.64Z" fill="#000"/>
<rect x="353.38" y="448.78" width="5.04" height="5.04" fill="#000"/>
<circle cx="348.8" cy="445.5" r="2.66" fill="#000"/>
<path d="M371.4 432.86 L374.20 438.04 L368.60 438.04Z" fill="#000"/>
<rect x="368.88" y="437.08" width="5.04" height="5.04" fill="#000"/>
<rect x="368.88" y="442.08" width="5.04" height="5.04" fill="#000"/>
<path d="M371.4 452.34 L374.20 447.16 L368.60 447.16Z" fill="#000"/>
<rect x="374.98" y="437.58" width="5.04" height="5.04" fill="#000"/>
<rect x="374.98" y="442.38" width="5.04" height="5.04" fill="#000"/>
<rect x="380.58" y="430.68" width="5.04" height="5.04" fill="#000"/>
<rect x="380.58" y="435.08" width="5.04" height="5.04" fill="#000"/>
<rect x="380.58" y="439.08" width="5.04" height="5.04" fill="#000"/>
<rect x="380.58" y="450.58" width="5.04" height="5.04" fill="#000"/>
<path d="M389.2 429.36 L392.00 434.54 L386.40 434.54Z" fill="#000"/>
<path d="M389.2 434.56 L392.14 437.5 L389.2 440.44 L386.26 437.5Z" fill="#000"/>
<rect x="386.68" y="440.18" width="5.04" height="5.04" fill="#000"/>
<circle cx="389.2" cy="447.3" r="2.66" fill="#000"/>
<path d="M386.96 451.26 L391.44 455.74 M391.44 451.26 L386.96 455.74" stroke="#000" stroke-width="1.1" fill="none"/>
<circle cx="394.4" cy="438.4" r="2.66" fill="#000"/>
<rect x="391.88" y="440.38" width="5.04" height="5.04" fill="#000"/>
<rect x="391.88" y="444.68" width="5.04" height="5.04" fill="#000"/>
<path d="M397.36 433.06 L401.84 437.54 M401.84 433.06 L397.36 437.54" stroke="#000" stroke-width="1.1" fill="none"/>
<rect x="397.48" y="438.48" width="5.04" height="5.04" fill="#000"/>
<rect x="397.48" y="442.98" width="5.04" height="5.04" fill="#000"/>
<path d="M400 453.44 L402.80 448.26 L397.20 448.26Z" fill="#000"/>
<path d="M405.8 437.14 L408.60 431.96 L403.00 431.96Z" fill="#000"/>
<rect x="403.68" y="450.98" width="5.04" height="5.04" fill="#000"/>
<path d="M411.5 429.76 L414.30 434.94 L408.70 434.94Z" fill="#000"/>
<path d="M411.5 442.86 L414.44 445.8 L411.5 448.74 L408.56 445.8Z" fill="#000"/>
<path d="M411.5 454.14 L414.30 448.96 L408.70 448.96Z" fill="#000"/>
<rect x="414.38" y="440.18" width="5.04" height="5.04" fill="#000"/>
<circle cx="416.9" cy="448.8" r="2.66" fill="#000"/>
<circle cx="423.1" cy="438.8" r="2.66" fill="#000"/>
<circle cx="423.1" cy="444" r="2.66" fill="#000"/>
<path d="M423.1 448.26 L426.04 451.2 L423.1 454.14 L420.16 451.2Z" fill="#000"/>
<circle cx="445.4" cy="426.5" r="2.66" fill="#000"/>
<path d="M440 432.06 L442.80 437.24 L437.20 437.24Z" fill="#000"/>
<path d="M439.2 440.56 L442.00 445.74 L436.40 445.74Z" fill="#000"/>
<rect x="436.68" y="447.08" width="5.04" height="5.04" fill="#000"/>
<path d="M443.16 442 L447.64 442 M445.4 439.76 L445.4 444.24" stroke="#000" stroke-width="1.1" fill="none"/>
<path d="M445.4 442.06 L448.20 447.24 L442.60 447.24Z" fill="#000"/>
<rect x="442.88" y="448.68" width="5.04" height="5.04" fill="#000"/>
<rect x="454.38" y="447.88" width="5.04" height="5.04" fill="#000"/>
<path d="M462.6 419.26 L465.54 422.2 L462.6 425.14 L459.66 422.2Z" fill="#000"/>
<rect x="457.68" y="445.98" width="5.04" height="5.04" fill="#000"/>
<path d="M463.1 452.94 L465.90 447.76 L460.30 447.76Z" fill="#000"/>
<path d="M460.86 446.5 L465.34 446.5 M463.1 444.26 L463.1 448.74" stroke="#000" stroke-width="1.1" fill="none"/>
<path d="M366.2 414.84 L369.00 409.66 L363.40 409.66Z" fill="#b0183c"/>
<path d="M392.16 413.66 L396.64 418.14 M396.64 413.66 L392.16 418.14" stroke="#b0183c" stroke-width="1.1" fill="none"/>
<circle cx="382.7" cy="447.4" r="2.66" fill="#b0183c"/>
<path d="M377.1 454.24 L379.90 449.06 L374.30 449.06Z" fill="#b0183c"/>
<path d="M394.8 448.36 L397.60 453.54 L392.00 453.54Z" fill="#b0183c"/>
<path d="M405.4 450.94 L408.20 445.76 L402.60 445.76Z" fill="#b0183c"/>
<path d="M451.1 445.34 L453.90 440.16 L448.30 440.16Z" fill="#b0183c"/>
<text x="9.0" y="520.6" font-size="14.4" font-weight="bold" fill="#000" stroke="#000" stroke-width="0.25">F</text>
<line x1="63.7" y1="538.0" x2="63.7" y2="659.4" stroke="#000" stroke-width="1.2"/>
<line x1="63.1" y1="658.8" x2="240.0" y2="658.8" stroke="#000" stroke-width="1.3"/>
<line x1="60.1" y1="659.6" x2="63.7" y2="659.6" stroke="#000" stroke-width="1.1"/>
<text x="56.2" y="662.8936" font-size="9.2" text-anchor="end" textLength="5.9" lengthAdjust="spacingAndGlyphs" fill="#000">0</text>
<line x1="60.1" y1="630.0" x2="63.7" y2="630.0" stroke="#000" stroke-width="1.1"/>
<text x="56.2" y="633.2936" font-size="9.2" text-anchor="end" textLength="5.9" lengthAdjust="spacingAndGlyphs" fill="#000">1</text>
<line x1="60.1" y1="600.4" x2="63.7" y2="600.4" stroke="#000" stroke-width="1.1"/>
<text x="56.2" y="603.6936" font-size="9.2" text-anchor="end" textLength="5.9" lengthAdjust="spacingAndGlyphs" fill="#000">2</text>
<line x1="60.1" y1="570.8" x2="63.7" y2="570.8" stroke="#000" stroke-width="1.1"/>
<text x="56.2" y="574.0935999999999" font-size="9.2" text-anchor="end" textLength="5.9" lengthAdjust="spacingAndGlyphs" fill="#000">3</text>
<line x1="60.1" y1="541.2" x2="63.7" y2="541.2" stroke="#000" stroke-width="1.1"/>
<text x="56.2" y="544.4936" font-size="9.2" text-anchor="end" textLength="5.9" lengthAdjust="spacingAndGlyphs" fill="#000">4</text>
<line x1="98.6" y1="658.8" x2="98.6" y2="662.4" stroke="#000" stroke-width="1.1"/>
<line x1="151.8" y1="658.8" x2="151.8" y2="662.4" stroke="#000" stroke-width="1.1"/>
<line x1="204.2" y1="658.8" x2="204.2" y2="662.4" stroke="#000" stroke-width="1.1"/>
<text x="99.0" y="675.2" font-size="9.3" text-anchor="middle" textLength="36" lengthAdjust="spacingAndGlyphs" fill="#000">Baseline</text>
<text x="151.8" y="675.2" font-size="9.3" text-anchor="middle" textLength="21.5" lengthAdjust="spacingAndGlyphs" fill="#000">Peak</text>
<text x="205.0" y="675.2" font-size="9.3" text-anchor="middle" textLength="35" lengthAdjust="spacingAndGlyphs" fill="#000">1 month</text>
<text x="43.9" y="598.7" font-size="11.8" text-anchor="middle" textLength="52" lengthAdjust="spacingAndGlyphs" transform="rotate(-90 43.9 598.7)" fill="#000" stroke="#000" stroke-width="0.38">CD8:CD4 ratio</text>
<polyline points="98.60,624.08 151.80,598.33 204.20,589.74" fill="none" stroke="#229090" stroke-width="1.1"/>
<polyline points="98.60,654.27 151.80,598.92 204.20,651.02" fill="none" stroke="#6cc0e8" stroke-width="1.1"/>
<polyline points="98.60,650.72 151.80,623.78 204.20,640.66" fill="none" stroke="#229090" stroke-width="1.1"/>
<polyline points="98.60,645.69 151.80,626.15 204.20,636.81" fill="none" stroke="#c4245a" stroke-width="1.1"/>
<polyline points="98.60,651.61 151.80,589.45 204.20,638.88" fill="none" stroke="#000" stroke-width="1.1"/>
<polyline points="98.60,648.65 151.80,582.34 204.20,597.44" fill="none" stroke="#5b34a0" stroke-width="1.1"/>
<polyline points="98.60,633.85 151.80,593.59 204.20,590.63" fill="none" stroke="#9466b8" stroke-width="1.1"/>
<polyline points="98.60,619.64 151.80,618.16 204.20,613.42" fill="none" stroke="#000" stroke-width="1.1"/>
<polyline points="98.60,645.69 151.80,555.41 204.20,621.12" fill="none" stroke="#c4245a" stroke-width="1.1"/>
<polyline points="98.60,541.20 151.80,542.68 204.20,586.19" fill="none" stroke="#4b2a8e" stroke-width="1.1"/>
<circle cx="98.6" cy="624.08" r="2.65" fill="#229090"/>
<circle cx="151.8" cy="598.33" r="2.65" fill="#229090"/>
<circle cx="204.2" cy="589.74" r="2.65" fill="#229090"/>
<circle cx="98.6" cy="654.27" r="2.65" fill="#6cc0e8"/>
<circle cx="151.8" cy="598.92" r="2.65" fill="#6cc0e8"/>
<circle cx="204.2" cy="651.02" r="2.65" fill="#6cc0e8"/>
<circle cx="98.6" cy="650.72" r="2.65" fill="#229090"/>
<circle cx="151.8" cy="623.78" r="2.65" fill="#229090"/>
<circle cx="204.2" cy="640.66" r="2.65" fill="#229090"/>
<circle cx="98.6" cy="645.69" r="2.65" fill="#c4245a"/>
<circle cx="151.8" cy="626.15" r="2.65" fill="#c4245a"/>
<circle cx="204.2" cy="636.81" r="2.65" fill="#c4245a"/>
<circle cx="98.6" cy="651.61" r="2.65" fill="#000"/>
<circle cx="151.8" cy="589.45" r="2.65" fill="#000"/>
<circle cx="204.2" cy="638.88" r="2.65" fill="#000"/>
<circle cx="98.6" cy="648.65" r="2.65" fill="#5b34a0"/>
<circle cx="151.8" cy="582.34" r="2.65" fill="#5b34a0"/>
<circle cx="204.2" cy="597.44" r="2.65" fill="#5b34a0"/>
<circle cx="98.6" cy="633.85" r="2.65" fill="#9466b8"/>
<circle cx="151.8" cy="593.59" r="2.65" fill="#9466b8"/>
<circle cx="204.2" cy="590.63" r="2.65" fill="#9466b8"/>
<circle cx="98.6" cy="619.64" r="2.65" fill="#000"/>
<circle cx="151.8" cy="618.16" r="2.65" fill="#000"/>
<circle cx="204.2" cy="613.42" r="2.65" fill="#000"/>
<circle cx="98.6" cy="645.69" r="2.65" fill="#c4245a"/>
<circle cx="151.8" cy="555.41" r="2.65" fill="#c4245a"/>
<circle cx="204.2" cy="621.12" r="2.65" fill="#c4245a"/>
<circle cx="98.6" cy="541.20" r="2.65" fill="#4b2a8e"/>
<circle cx="151.8" cy="542.68" r="2.65" fill="#4b2a8e"/>
<circle cx="204.2" cy="586.19" r="2.65" fill="#4b2a8e"/>
<circle cx="98.6" cy="624.97" r="2.65" fill="#6cc0e8"/>
<text x="271.8" y="521.3" font-size="14.4" font-weight="bold" fill="#000" stroke="#000" stroke-width="0.25">G</text>
<line x1="326.2" y1="528.7" x2="326.2" y2="659.1" stroke="#000" stroke-width="1.2"/>
<line x1="325.59999999999997" y1="658.5" x2="410.4" y2="658.5" stroke="#000" stroke-width="1.3"/>
<line x1="322.59999999999997" y1="648.5" x2="326.2" y2="648.5" stroke="#000" stroke-width="1.1"/>
<text x="318.8" y="651.7936" font-size="9.2" text-anchor="end" textLength="5.9" lengthAdjust="spacingAndGlyphs" fill="#000">0</text>
<line x1="322.59999999999997" y1="609.5" x2="326.2" y2="609.5" stroke="#000" stroke-width="1.1"/>
<text x="318.8" y="612.7936" font-size="9.2" text-anchor="end" textLength="5.9" lengthAdjust="spacingAndGlyphs" fill="#000">2</text>
<line x1="322.59999999999997" y1="570.5" x2="326.2" y2="570.5" stroke="#000" stroke-width="1.1"/>
<text x="318.8" y="573.7936" font-size="9.2" text-anchor="end" textLength="5.9" lengthAdjust="spacingAndGlyphs" fill="#000">4</text>
<line x1="322.59999999999997" y1="531.5" x2="326.2" y2="531.5" stroke="#000" stroke-width="1.1"/>
<text x="318.8" y="534.7936" font-size="9.2" text-anchor="end" textLength="5.9" lengthAdjust="spacingAndGlyphs" fill="#000">6</text>
<line x1="326.2" y1="648.5" x2="410.4" y2="648.5" stroke="#000" stroke-width="1.2" stroke-dasharray="1.3 1.5"/>
<path d="M350.50 531.50 L350.50 532.00 L350.50 532.50 L350.50 533.00 L350.50 533.50 L350.50 534.00 L350.50 534.50 L350.50 535.00 L350.50 535.50 L350.50 536.00 L350.50 536.50 L350.49 537.00 L350.49 537.50 L350.49 538.00 L350.49 538.50 L350.49 539.00 L350.49 539.50 L350.49 540.00 L350.49 540.50 L350.48 541.00 L350.48 541.50 L350.48 542.00 L350.48 542.50 L350.48 543.00 L350.48 543.50 L350.48 544.00 L350.48 544.50 L350.47 545.00 L350.47 545.50 L350.47 546.00 L350.47 546.50 L350.47 547.00 L350.47 547.50 L350.47 548.00 L350.47 548.50 L350.47 549.00 L350.46 549.50 L350.46 550.00 L350.46 550.50 L350.46 551.00 L350.46 551.50 L350.46 552.00 L350.46 552.50 L350.46 553.00 L350.46 553.50 L350.46 554.00 L350.46 554.50 L350.46 555.00 L350.46 555.50 L350.46 556.00 L350.46 556.50 L350.46 557.00 L350.46 557.50 L350.46 558.00 L350.46 558.50 L350.46 559.00 L350.47 559.50 L350.47 560.00 L350.47 560.50 L350.47 561.00 L350.47 561.50 L350.47 562.00 L350.48 562.50 L350.48 563.00 L350.48 563.50 L350.49 564.00 L350.49 564.50 L350.49 565.00 L350.50 565.50 L350.50 566.00 L350.52 566.50 L350.55 567.00 L350.61 567.50 L350.67 568.00 L350.73 568.50 L350.80 569.00 L350.87 569.50 L350.94 570.00 L351.02 570.50 L351.11 571.00 L351.19 571.50 L351.27 572.00 L351.34 572.50 L351.41 573.00 L351.46 573.50 L351.50 574.00 L351.53 574.50 L351.56 575.00 L351.58 575.50 L351.60 576.00 L351.62 576.50 L351.64 577.00 L351.65 577.50 L351.66 578.00 L351.67 578.50 L351.68 579.00 L351.69 579.50 L351.69 580.00 L351.69 580.50 L351.70 581.00 L351.70 581.50 L351.70 582.00 L351.70 582.50 L351.70 583.00 L351.70 583.50 L351.70 584.00 L351.69 584.50 L351.69 585.00 L351.68 585.50 L351.68 586.00 L351.67 586.50 L351.66 587.00 L351.65 587.50 L351.64 588.00 L351.63 588.50 L351.61 589.00 L351.60 589.50 L351.58 590.00 L351.56 590.50 L351.54 591.00 L351.52 591.50 L351.50 592.00 L351.47 592.50 L351.44 593.00 L351.39 593.50 L351.35 594.00 L351.30 594.50 L351.25 595.00 L351.19 595.50 L351.15 596.00 L351.10 596.50 L351.06 597.00 L351.03 597.50 L351.01 598.00 L351.00 598.50 L351.00 599.00 L351.01 599.50 L351.02 600.00 L351.05 600.50 L351.07 601.00 L351.11 601.50 L351.14 602.00 L351.18 602.50 L351.22 603.00 L351.27 603.50 L351.31 604.00 L351.36 604.50 L351.40 605.00 L351.44 605.52 L351.49 606.04 L351.53 606.55 L351.57 607.07 L351.61 607.59 L351.65 608.11 L351.69 608.62 L351.74 609.14 L351.79 609.66 L351.84 610.18 L351.89 610.69 L351.95 611.21 L352.01 611.73 L352.07 612.25 L352.14 612.76 L352.22 613.28 L352.30 613.80 L352.39 614.32 L352.50 614.84 L352.63 615.36 L352.76 615.88 L352.91 616.40 L353.06 616.92 L353.22 617.44 L353.38 617.96 L353.54 618.48 L353.70 619.00 L353.86 619.50 L354.02 620.00 L354.18 620.50 L354.35 621.00 L354.53 621.50 L354.71 622.00 L354.90 622.50 L355.09 623.00 L355.30 623.50 L355.52 624.00 L355.74 624.50 L355.98 625.00 L356.22 625.50 L356.46 626.00 L356.71 626.50 L356.96 627.00 L357.21 627.50 L357.46 628.00 L357.70 628.50 L357.95 629.00 L358.20 629.50 L358.46 630.00 L358.72 630.50 L358.98 631.00 L359.23 631.50 L359.47 632.00 L359.69 632.50 L359.90 633.00 L360.12 633.53 L360.35 634.05 L360.58 634.58 L360.81 635.11 L361.03 635.64 L361.24 636.16 L361.42 636.69 L361.58 637.22 L361.70 637.75 L361.77 638.27 L361.80 638.80 L361.78 639.33 L361.71 639.85 L361.61 640.38 L361.47 640.91 L361.30 641.44 L361.11 641.96 L360.89 642.49 L360.66 643.02 L360.41 643.55 L360.16 644.07 L359.90 644.60 L359.63 645.13 L359.33 645.65 L359.00 646.18 L358.66 646.71 L358.30 647.24 L357.94 647.76 L357.57 648.29 L357.19 648.82 L356.82 649.35 L356.45 649.87 L356.10 650.40 L355.75 650.92 L355.40 651.45 L355.05 651.98 L354.70 652.50 L354.35 653.02 L353.99 653.55 L353.65 654.08 L353.30 654.60 L352.94 655.12 L352.55 655.65 L352.16 656.17 L351.78 656.70 L351.41 657.23 L351.08 657.75 L350.81 658.27 L350.60 658.80 L350.00 658.80 L349.79 658.27 L349.52 657.75 L349.19 657.23 L348.82 656.70 L348.44 656.17 L348.05 655.65 L347.66 655.12 L347.30 654.60 L346.95 654.08 L346.61 653.55 L346.25 653.02 L345.90 652.50 L345.55 651.98 L345.20 651.45 L344.85 650.92 L344.50 650.40 L344.15 649.87 L343.78 649.35 L343.41 648.82 L343.03 648.29 L342.66 647.76 L342.30 647.24 L341.94 646.71 L341.60 646.18 L341.27 645.65 L340.97 645.13 L340.70 644.60 L340.44 644.07 L340.19 643.55 L339.94 643.02 L339.71 642.49 L339.49 641.96 L339.30 641.44 L339.13 640.91 L338.99 640.38 L338.89 639.85 L338.82 639.33 L338.80 638.80 L338.83 638.27 L338.90 637.75 L339.02 637.22 L339.18 636.69 L339.36 636.16 L339.57 635.64 L339.79 635.11 L340.02 634.58 L340.25 634.05 L340.48 633.53 L340.70 633.00 L340.91 632.50 L341.13 632.00 L341.37 631.50 L341.62 631.00 L341.88 630.50 L342.14 630.00 L342.40 629.50 L342.65 629.00 L342.90 628.50 L343.14 628.00 L343.39 627.50 L343.64 627.00 L343.89 626.50 L344.14 626.00 L344.38 625.50 L344.62 625.00 L344.86 624.50 L345.08 624.00 L345.30 623.50 L345.51 623.00 L345.70 622.50 L345.89 622.00 L346.07 621.50 L346.25 621.00 L346.42 620.50 L346.58 620.00 L346.74 619.50 L346.90 619.00 L347.06 618.48 L347.22 617.96 L347.38 617.44 L347.54 616.92 L347.69 616.40 L347.84 615.88 L347.97 615.36 L348.10 614.84 L348.21 614.32 L348.30 613.80 L348.38 613.28 L348.46 612.76 L348.53 612.25 L348.59 611.73 L348.65 611.21 L348.71 610.69 L348.76 610.18 L348.81 609.66 L348.86 609.14 L348.91 608.62 L348.95 608.11 L348.99 607.59 L349.03 607.07 L349.07 606.55 L349.11 606.04 L349.16 605.52 L349.20 605.00 L349.24 604.50 L349.29 604.00 L349.33 603.50 L349.38 603.00 L349.42 602.50 L349.46 602.00 L349.49 601.50 L349.53 601.00 L349.55 600.50 L349.58 600.00 L349.59 599.50 L349.60 599.00 L349.60 598.50 L349.59 598.00 L349.57 597.50 L349.54 597.00 L349.50 596.50 L349.45 596.00 L349.41 595.50 L349.35 595.00 L349.30 594.50 L349.25 594.00 L349.21 593.50 L349.16 593.00 L349.13 592.50 L349.10 592.00 L349.08 591.50 L349.06 591.00 L349.04 590.50 L349.02 590.00 L349.00 589.50 L348.99 589.00 L348.97 588.50 L348.96 588.00 L348.95 587.50 L348.94 587.00 L348.93 586.50 L348.92 586.00 L348.92 585.50 L348.91 585.00 L348.91 584.50 L348.90 584.00 L348.90 583.50 L348.90 583.00 L348.90 582.50 L348.90 582.00 L348.90 581.50 L348.90 581.00 L348.91 580.50 L348.91 580.00 L348.91 579.50 L348.92 579.00 L348.93 578.50 L348.94 578.00 L348.95 577.50 L348.96 577.00 L348.98 576.50 L349.00 576.00 L349.02 575.50 L349.04 575.00 L349.07 574.50 L349.10 574.00 L349.14 573.50 L349.19 573.00 L349.26 572.50 L349.33 572.00 L349.41 571.50 L349.49 571.00 L349.58 570.50 L349.66 570.00 L349.73 569.50 L349.80 569.00 L349.87 568.50 L349.93 568.00 L349.99 567.50 L350.05 567.00 L350.08 566.50 L350.10 566.00 L350.10 565.50 L350.11 565.00 L350.11 564.50 L350.11 564.00 L350.12 563.50 L350.12 563.00 L350.12 562.50 L350.13 562.00 L350.13 561.50 L350.13 561.00 L350.13 560.50 L350.13 560.00 L350.13 559.50 L350.14 559.00 L350.14 558.50 L350.14 558.00 L350.14 557.50 L350.14 557.00 L350.14 556.50 L350.14 556.00 L350.14 555.50 L350.14 555.00 L350.14 554.50 L350.14 554.00 L350.14 553.50 L350.14 553.00 L350.14 552.50 L350.14 552.00 L350.14 551.50 L350.14 551.00 L350.14 550.50 L350.14 550.00 L350.14 549.50 L350.13 549.00 L350.13 548.50 L350.13 548.00 L350.13 547.50 L350.13 547.00 L350.13 546.50 L350.13 546.00 L350.13 545.50 L350.13 545.00 L350.12 544.50 L350.12 544.00 L350.12 543.50 L350.12 543.00 L350.12 542.50 L350.12 542.00 L350.12 541.50 L350.12 541.00 L350.11 540.50 L350.11 540.00 L350.11 539.50 L350.11 539.00 L350.11 538.50 L350.11 538.00 L350.11 537.50 L350.11 537.00 L350.10 536.50 L350.10 536.00 L350.10 535.50 L350.10 535.00 L350.10 534.50 L350.10 534.00 L350.10 533.50 L350.10 533.00 L350.10 532.50 L350.10 532.00 L350.10 531.50Z" fill="none" stroke="#000" stroke-width="1.35" stroke-linejoin="round"/>
<line x1="343.0" y1="633.0" x2="357.5" y2="633.0" stroke="#000" stroke-width="1.0" stroke-dasharray="1.6 1.2"/>
<line x1="340.8" y1="642.7" x2="360.2" y2="642.7" stroke="#555" stroke-width="0.8"/>
<path d="M386.60 531.50 L386.60 532.00 L386.60 532.50 L386.59 533.00 L386.59 533.50 L386.58 534.00 L386.57 534.50 L386.56 535.00 L386.56 535.50 L386.55 536.00 L386.54 536.50 L386.54 537.00 L386.54 537.50 L386.54 538.00 L386.54 538.50 L386.54 539.00 L386.55 539.50 L386.56 540.00 L386.58 540.50 L386.60 541.00 L386.64 541.50 L386.70 542.00 L386.78 542.50 L386.87 543.00 L386.96 543.50 L387.05 544.00 L387.13 544.50 L387.20 545.00 L387.26 545.50 L387.31 546.00 L387.37 546.50 L387.42 547.00 L387.48 547.50 L387.53 548.00 L387.57 548.50 L387.61 549.00 L387.65 549.50 L387.67 550.00 L387.69 550.50 L387.70 551.00 L387.70 551.50 L387.69 552.00 L387.68 552.50 L387.67 553.00 L387.64 553.50 L387.62 554.00 L387.59 554.50 L387.55 555.00 L387.52 555.50 L387.48 556.00 L387.43 556.50 L387.39 557.00 L387.35 557.50 L387.30 558.00 L387.25 558.50 L387.18 559.00 L387.10 559.50 L387.01 560.00 L386.92 560.50 L386.83 561.00 L386.75 561.50 L386.68 562.00 L386.62 562.50 L386.57 563.00 L386.55 563.50 L386.56 564.00 L386.59 564.50 L386.66 565.00 L386.73 565.50 L386.82 566.00 L386.90 566.50 L386.98 567.00 L387.05 567.50 L387.10 568.00 L387.14 568.50 L387.17 569.00 L387.21 569.50 L387.24 570.00 L387.28 570.50 L387.31 571.00 L387.34 571.50 L387.37 572.00 L387.40 572.50 L387.43 573.00 L387.45 573.50 L387.48 574.00 L387.50 574.50 L387.52 575.00 L387.54 575.50 L387.56 576.00 L387.57 576.50 L387.58 577.00 L387.59 577.50 L387.60 578.00 L387.60 578.50 L387.59 579.00 L387.58 579.50 L387.56 580.00 L387.53 580.50 L387.50 581.00 L387.47 581.50 L387.43 582.00 L387.40 582.50 L387.37 583.00 L387.34 583.50 L387.31 584.00 L387.29 584.50 L387.28 585.00 L387.27 585.50 L387.27 586.00 L387.28 586.50 L387.30 587.00 L387.35 587.50 L387.42 588.00 L387.53 588.50 L387.66 589.00 L387.80 589.50 L387.96 590.00 L388.13 590.50 L388.30 591.00 L388.48 591.50 L388.69 592.00 L388.91 592.50 L389.15 593.00 L389.38 593.50 L389.60 594.00 L389.81 594.50 L390.00 595.00 L390.19 595.55 L390.39 596.10 L390.58 596.65 L390.76 597.20 L390.91 597.75 L391.05 598.30 L391.14 598.85 L391.20 599.40 L391.19 599.96 L391.12 600.51 L391.00 601.07 L390.86 601.63 L390.71 602.19 L390.59 602.74 L390.50 603.30 L390.45 603.83 L390.40 604.36 L390.36 604.89 L390.34 605.41 L390.33 605.94 L390.35 606.47 L390.40 607.00 L390.47 607.50 L390.56 608.00 L390.66 608.50 L390.79 609.00 L390.92 609.50 L391.07 610.00 L391.23 610.50 L391.40 611.00 L391.58 611.52 L391.78 612.03 L391.98 612.55 L392.19 613.06 L392.40 613.58 L392.62 614.09 L392.83 614.61 L393.05 615.12 L393.27 615.64 L393.49 616.15 L393.70 616.67 L393.90 617.18 L394.10 617.70 L394.29 618.21 L394.49 618.73 L394.69 619.24 L394.88 619.75 L395.08 620.27 L395.28 620.78 L395.47 621.29 L395.66 621.81 L395.84 622.32 L396.02 622.83 L396.19 623.35 L396.36 623.86 L396.52 624.37 L396.66 624.89 L396.80 625.40 L396.93 625.92 L397.06 626.43 L397.18 626.95 L397.30 627.46 L397.41 627.98 L397.51 628.49 L397.59 629.01 L397.67 629.52 L397.73 630.04 L397.77 630.55 L397.80 631.07 L397.81 631.58 L397.80 632.10 L397.75 632.64 L397.66 633.19 L397.53 633.73 L397.37 634.28 L397.18 634.82 L396.98 635.37 L396.76 635.91 L396.53 636.46 L396.30 637.00 L396.08 637.50 L395.85 638.00 L395.59 638.50 L395.32 639.00 L395.04 639.50 L394.74 640.00 L394.42 640.50 L394.10 641.00 L393.74 641.51 L393.36 642.03 L392.96 642.54 L392.54 643.06 L392.12 643.57 L391.71 644.09 L391.30 644.60 L390.86 645.17 L390.42 645.73 L389.97 646.30 L389.54 646.87 L389.11 647.43 L388.70 648.00 L388.27 648.60 L387.86 649.20 L387.49 649.80 L387.20 650.40 L387.02 650.92 L386.89 651.44 L386.80 651.96 L386.74 652.48 L386.70 653.00 L386.67 653.53 L386.64 654.05 L386.62 654.58 L386.61 655.11 L386.61 655.64 L386.60 656.16 L386.60 656.69 L386.60 657.22 L386.60 657.75 L386.60 658.27 L386.60 658.80 L386.00 658.80 L386.00 658.27 L386.00 657.75 L386.00 657.22 L386.00 656.69 L386.00 656.16 L385.99 655.64 L385.99 655.11 L385.98 654.58 L385.96 654.05 L385.93 653.53 L385.90 653.00 L385.86 652.48 L385.80 651.96 L385.71 651.44 L385.58 650.92 L385.40 650.40 L385.11 649.80 L384.74 649.20 L384.33 648.60 L383.90 648.00 L383.49 647.43 L383.06 646.87 L382.63 646.30 L382.18 645.73 L381.74 645.17 L381.30 644.60 L380.89 644.09 L380.48 643.57 L380.06 643.06 L379.64 642.54 L379.24 642.03 L378.86 641.51 L378.50 641.00 L378.18 640.50 L377.86 640.00 L377.56 639.50 L377.28 639.00 L377.01 638.50 L376.75 638.00 L376.52 637.50 L376.30 637.00 L376.07 636.46 L375.84 635.91 L375.62 635.37 L375.42 634.82 L375.23 634.28 L375.07 633.73 L374.94 633.19 L374.85 632.64 L374.80 632.10 L374.79 631.58 L374.80 631.07 L374.83 630.55 L374.87 630.04 L374.93 629.52 L375.01 629.01 L375.09 628.49 L375.19 627.98 L375.30 627.46 L375.42 626.95 L375.54 626.43 L375.67 625.92 L375.80 625.40 L375.94 624.89 L376.08 624.37 L376.24 623.86 L376.41 623.35 L376.58 622.83 L376.76 622.32 L376.94 621.81 L377.13 621.29 L377.32 620.78 L377.52 620.27 L377.72 619.75 L377.91 619.24 L378.11 618.73 L378.31 618.21 L378.50 617.70 L378.70 617.18 L378.90 616.67 L379.11 616.15 L379.33 615.64 L379.55 615.12 L379.77 614.61 L379.98 614.09 L380.20 613.58 L380.41 613.06 L380.62 612.55 L380.82 612.03 L381.02 611.52 L381.20 611.00 L381.37 610.50 L381.53 610.00 L381.68 609.50 L381.81 609.00 L381.94 608.50 L382.04 608.00 L382.13 607.50 L382.20 607.00 L382.25 606.47 L382.27 605.94 L382.26 605.41 L382.24 604.89 L382.20 604.36 L382.15 603.83 L382.10 603.30 L382.01 602.74 L381.89 602.19 L381.74 601.63 L381.60 601.07 L381.48 600.51 L381.41 599.96 L381.40 599.40 L381.46 598.85 L381.55 598.30 L381.69 597.75 L381.84 597.20 L382.02 596.65 L382.21 596.10 L382.41 595.55 L382.60 595.00 L382.79 594.50 L383.00 594.00 L383.22 593.50 L383.45 593.00 L383.69 592.50 L383.91 592.00 L384.12 591.50 L384.30 591.00 L384.47 590.50 L384.64 590.00 L384.80 589.50 L384.94 589.00 L385.07 588.50 L385.18 588.00 L385.25 587.50 L385.30 587.00 L385.32 586.50 L385.33 586.00 L385.33 585.50 L385.32 585.00 L385.31 584.50 L385.29 584.00 L385.26 583.50 L385.23 583.00 L385.20 582.50 L385.17 582.00 L385.13 581.50 L385.10 581.00 L385.07 580.50 L385.04 580.00 L385.02 579.50 L385.01 579.00 L385.00 578.50 L385.00 578.00 L385.01 577.50 L385.02 577.00 L385.03 576.50 L385.04 576.00 L385.06 575.50 L385.08 575.00 L385.10 574.50 L385.12 574.00 L385.15 573.50 L385.17 573.00 L385.20 572.50 L385.23 572.00 L385.26 571.50 L385.29 571.00 L385.32 570.50 L385.36 570.00 L385.39 569.50 L385.43 569.00 L385.46 568.50 L385.50 568.00 L385.55 567.50 L385.62 567.00 L385.70 566.50 L385.78 566.00 L385.87 565.50 L385.94 565.00 L386.01 564.50 L386.04 564.00 L386.05 563.50 L386.03 563.00 L385.98 562.50 L385.92 562.00 L385.85 561.50 L385.77 561.00 L385.68 560.50 L385.59 560.00 L385.50 559.50 L385.42 559.00 L385.35 558.50 L385.30 558.00 L385.25 557.50 L385.21 557.00 L385.17 556.50 L385.12 556.00 L385.08 555.50 L385.05 555.00 L385.01 554.50 L384.98 554.00 L384.96 553.50 L384.93 553.00 L384.92 552.50 L384.91 552.00 L384.90 551.50 L384.90 551.00 L384.91 550.50 L384.93 550.00 L384.95 549.50 L384.99 549.00 L385.03 548.50 L385.07 548.00 L385.12 547.50 L385.18 547.00 L385.23 546.50 L385.29 546.00 L385.34 545.50 L385.40 545.00 L385.47 544.50 L385.55 544.00 L385.64 543.50 L385.73 543.00 L385.82 542.50 L385.90 542.00 L385.96 541.50 L386.00 541.00 L386.02 540.50 L386.04 540.00 L386.05 539.50 L386.06 539.00 L386.06 538.50 L386.06 538.00 L386.06 537.50 L386.06 537.00 L386.06 536.50 L386.05 536.00 L386.04 535.50 L386.04 535.00 L386.03 534.50 L386.02 534.00 L386.01 533.50 L386.01 533.00 L386.00 532.50 L386.00 532.00 L386.00 531.50Z" fill="none" stroke="#c6007e" stroke-width="1.5" stroke-linejoin="round"/>
<line x1="381.5" y1="599.4" x2="391.1" y2="599.4" stroke="#c6007e" stroke-width="1.0"/>
<line x1="381.6" y1="619.6" x2="392.5" y2="619.6" stroke="#c6007e" stroke-width="1.0" stroke-dasharray="1.6 1.2"/>
<line x1="375.5" y1="633.2" x2="397.0" y2="633.2" stroke="#e070b8" stroke-width="1.0"/>
<line x1="350.3" y1="658.5" x2="350.3" y2="662.1" stroke="#000" stroke-width="1.1"/>
<line x1="386.3" y1="658.5" x2="386.3" y2="662.1" stroke="#000" stroke-width="1.1"/>
<text x="368.7" y="539.5" font-size="8.2" text-anchor="middle" textLength="9.6" lengthAdjust="spacingAndGlyphs" fill="#000">***</text>
<text x="354.0" y="670.5" font-size="9.7" text-anchor="end" textLength="37.4" lengthAdjust="spacingAndGlyphs" transform="rotate(-45 354.0 670.5)" fill="#000">Pre-CAR</text>
<text x="390.0" y="669.5" font-size="9.7" text-anchor="end" textLength="64" lengthAdjust="spacingAndGlyphs" transform="rotate(-45 390.0 669.5)" fill="#000">d28 Post-CAR</text>
<text x="305.9" y="593.2" font-size="11.8" text-anchor="middle" textLength="52" lengthAdjust="spacingAndGlyphs" transform="rotate(-90 305.9 593.2)" fill="#000" stroke="#000" stroke-width="0.38">CD8:CD4 ratio</text>
<rect x="0.75" y="0.75" width="518.5" height="722.5" fill="none" stroke="#000" stroke-width="1.5"/>
</svg></body></html>
